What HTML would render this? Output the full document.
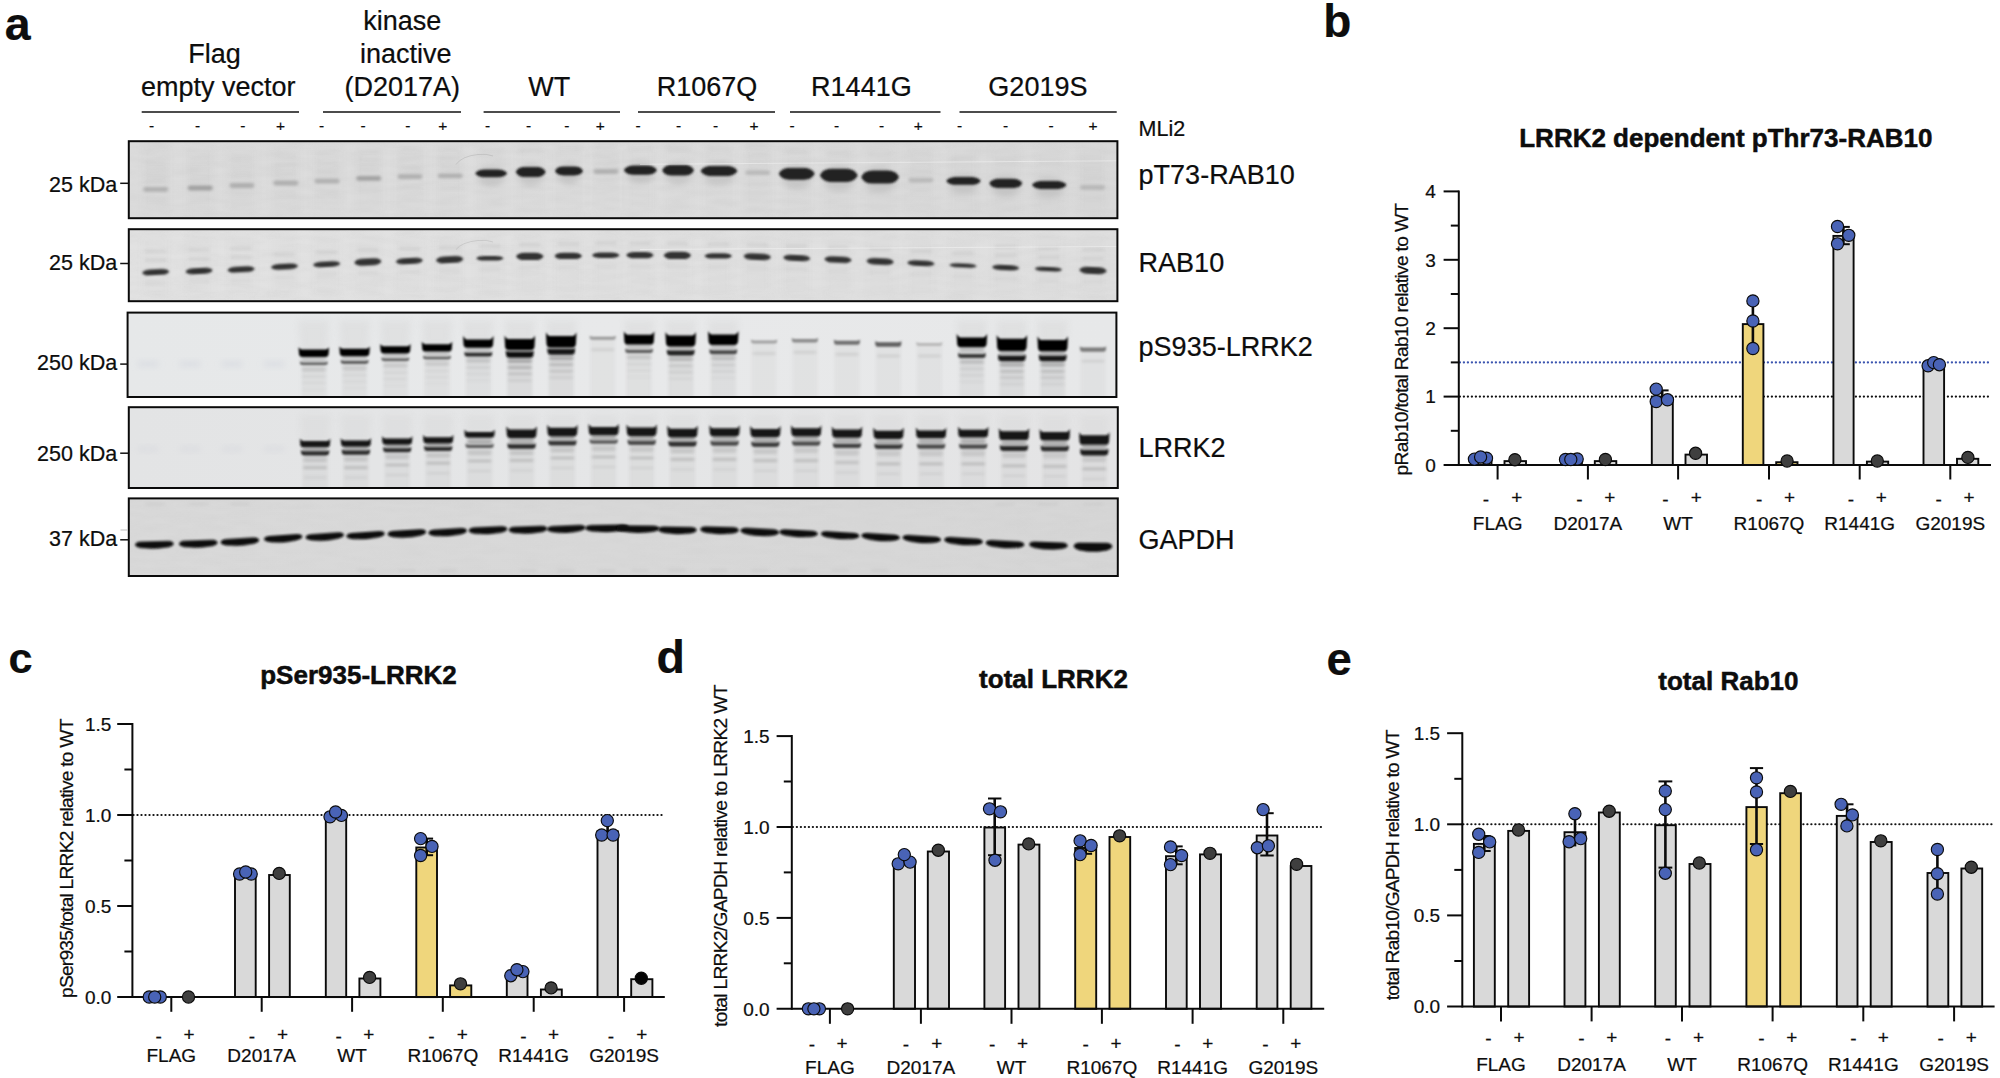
<!DOCTYPE html>
<html lang="en"><head><meta charset="utf-8"><title>LRRK2 variants figure</title>
<style>html,body{margin:0;padding:0;background:#fff;}svg{display:block;}text{font-family:"Liberation Sans", Arial, Helvetica, sans-serif;fill:#0d0d0d;stroke:#0d0d0d;stroke-width:0.22px;}</style></head><body>
<svg width="2000" height="1078" viewBox="0 0 2000 1078">
<defs>
<filter id="b1" x="-20%" y="-80%" width="140%" height="260%"><feGaussianBlur stdDeviation="1.15"/></filter>
<filter id="b0" x="-20%" y="-80%" width="140%" height="260%"><feGaussianBlur stdDeviation="0.85"/></filter>
<filter id="b2" x="-20%" y="-100%" width="140%" height="300%"><feGaussianBlur stdDeviation="1.7"/></filter>
<filter id="b3s" x="-30%" y="-150%" width="160%" height="400%"><feGaussianBlur stdDeviation="2.3"/></filter>
<filter id="b3" x="-30%" y="-60%" width="160%" height="220%"><feGaussianBlur stdDeviation="3.2"/></filter>
<filter id="noise" x="0" y="0" width="100%" height="100%"><feTurbulence type="fractalNoise" baseFrequency="0.035 0.22" numOctaves="2" seed="7" result="n"/><feColorMatrix in="n" type="matrix" values="0 0 0 0 0.45  0 0 0 0 0.45  0 0 0 0 0.45  0.55 0 0 0 -0.22"/><feGaussianBlur stdDeviation="1.2"/></filter>
<linearGradient id="bg1" x1="0" y1="0" x2="1" y2="0"><stop offset="0" stop-color="#dcdcdc"/><stop offset="0.5" stop-color="#dedede"/><stop offset="1" stop-color="#dadada"/></linearGradient>
<linearGradient id="bg2" x1="0" y1="0" x2="1" y2="0"><stop offset="0" stop-color="#e2e2e2"/><stop offset="0.5" stop-color="#e1e1e1"/><stop offset="1" stop-color="#dfdfdf"/></linearGradient>
<linearGradient id="bg3" x1="0" y1="0" x2="1" y2="0"><stop offset="0" stop-color="#e6e8e9"/><stop offset="0.5" stop-color="#e8e9ea"/><stop offset="1" stop-color="#e7e8e9"/></linearGradient>
<linearGradient id="bg4" x1="0" y1="0" x2="1" y2="0"><stop offset="0" stop-color="#e3e4e5"/><stop offset="0.5" stop-color="#e5e6e7"/><stop offset="1" stop-color="#e4e4e5"/></linearGradient>
<linearGradient id="bg5" x1="0" y1="0" x2="1" y2="0"><stop offset="0" stop-color="#d9d9d9"/><stop offset="0.5" stop-color="#d8d8d8"/><stop offset="1" stop-color="#d6d6d6"/></linearGradient>
</defs>
<rect width="2000" height="1078" fill="#ffffff"/>
<text x="4.8" y="39.5" font-size="46.5" text-anchor="start" font-weight="bold" >a</text>
<text x="1323.2" y="37.2" font-size="46" text-anchor="start" font-weight="bold" >b</text>
<text x="8.4" y="672.6" font-size="43.2" text-anchor="start" font-weight="bold" >c</text>
<text x="656.5" y="672.6" font-size="46.5" text-anchor="start" font-weight="bold" >d</text>
<text x="1326.6" y="675.4" font-size="45.5" text-anchor="start" font-weight="bold" >e</text>
<text x="214.5" y="63.3" font-size="27" text-anchor="middle" font-weight="normal" >Flag</text>
<text x="218.2" y="96.0" font-size="27" text-anchor="middle" font-weight="normal" >empty vector</text>
<text x="402.2" y="30.4" font-size="27" text-anchor="middle" font-weight="normal" >kinase</text>
<text x="405.7" y="63.3" font-size="27" text-anchor="middle" font-weight="normal" >inactive</text>
<text x="402.2" y="96.0" font-size="27" text-anchor="middle" font-weight="normal" >(D2017A)</text>
<text x="549.2" y="96.0" font-size="27" text-anchor="middle" font-weight="normal" >WT</text>
<text x="707.0" y="96.0" font-size="27" text-anchor="middle" font-weight="normal" >R1067Q</text>
<text x="861.4" y="96.0" font-size="27" text-anchor="middle" font-weight="normal" >R1441G</text>
<text x="1037.9" y="96.0" font-size="27" text-anchor="middle" font-weight="normal" >G2019S</text>
<line x1="141.7" y1="112" x2="299" y2="112" stroke="#111" stroke-width="1.7"/>
<line x1="323" y1="112" x2="461" y2="112" stroke="#111" stroke-width="1.7"/>
<line x1="483.6" y1="112" x2="620" y2="112" stroke="#111" stroke-width="1.7"/>
<line x1="638" y1="112" x2="775" y2="112" stroke="#111" stroke-width="1.7"/>
<line x1="790" y1="112" x2="940.5" y2="112" stroke="#111" stroke-width="1.7"/>
<line x1="959.5" y1="112" x2="1116.7" y2="112" stroke="#111" stroke-width="1.7"/>
<text x="151.5" y="131.4" font-size="15.5" text-anchor="middle" font-weight="normal" fill="#222">-</text>
<text x="197.7" y="131.4" font-size="15.5" text-anchor="middle" font-weight="normal" fill="#222">-</text>
<text x="242.9" y="131.4" font-size="15.5" text-anchor="middle" font-weight="normal" fill="#222">-</text>
<text x="280.6" y="131.4" font-size="15.5" text-anchor="middle" font-weight="normal" fill="#222">+</text>
<text x="321.5" y="131.4" font-size="15.5" text-anchor="middle" font-weight="normal" fill="#222">-</text>
<text x="363.0" y="131.4" font-size="15.5" text-anchor="middle" font-weight="normal" fill="#222">-</text>
<text x="407.8" y="131.4" font-size="15.5" text-anchor="middle" font-weight="normal" fill="#222">-</text>
<text x="442.7" y="131.4" font-size="15.5" text-anchor="middle" font-weight="normal" fill="#222">+</text>
<text x="487.5" y="131.4" font-size="15.5" text-anchor="middle" font-weight="normal" fill="#222">-</text>
<text x="528.7" y="131.4" font-size="15.5" text-anchor="middle" font-weight="normal" fill="#222">-</text>
<text x="566.8" y="131.4" font-size="15.5" text-anchor="middle" font-weight="normal" fill="#222">-</text>
<text x="600.3" y="131.4" font-size="15.5" text-anchor="middle" font-weight="normal" fill="#222">+</text>
<text x="638.0" y="131.4" font-size="15.5" text-anchor="middle" font-weight="normal" fill="#222">-</text>
<text x="678.6" y="131.4" font-size="15.5" text-anchor="middle" font-weight="normal" fill="#222">-</text>
<text x="715.6" y="131.4" font-size="15.5" text-anchor="middle" font-weight="normal" fill="#222">-</text>
<text x="754.0" y="131.4" font-size="15.5" text-anchor="middle" font-weight="normal" fill="#222">+</text>
<text x="792.0" y="131.4" font-size="15.5" text-anchor="middle" font-weight="normal" fill="#222">-</text>
<text x="836.5" y="131.4" font-size="15.5" text-anchor="middle" font-weight="normal" fill="#222">-</text>
<text x="881.6" y="131.4" font-size="15.5" text-anchor="middle" font-weight="normal" fill="#222">-</text>
<text x="918.3" y="131.4" font-size="15.5" text-anchor="middle" font-weight="normal" fill="#222">+</text>
<text x="959.5" y="131.4" font-size="15.5" text-anchor="middle" font-weight="normal" fill="#222">-</text>
<text x="1005.7" y="131.4" font-size="15.5" text-anchor="middle" font-weight="normal" fill="#222">-</text>
<text x="1051.0" y="131.4" font-size="15.5" text-anchor="middle" font-weight="normal" fill="#222">-</text>
<text x="1093.0" y="131.4" font-size="15.5" text-anchor="middle" font-weight="normal" fill="#222">+</text>
<text x="1138.6" y="135.5" font-size="21.5" text-anchor="start" font-weight="normal" >MLi2</text>
<clipPath id="cb1"><rect x="128.8" y="141.2" width="988.6" height="77.0"/></clipPath>
<clipPath id="cb2"><rect x="128.8" y="229.2" width="988.6" height="72.0"/></clipPath>
<clipPath id="cb3"><rect x="128.8" y="312.6" width="988.6" height="84.4"/></clipPath>
<clipPath id="cb4"><rect x="128.8" y="407.2" width="988.6" height="80.8"/></clipPath>
<clipPath id="cb5"><rect x="128.8" y="498.4" width="988.6" height="77.6"/></clipPath>
<g clip-path="url(#cb1)">
<rect x="128.8" y="141.2" width="988.6" height="77.0" fill="url(#bg1)"/>
<rect x="128.8" y="141.2" width="988.6" height="77.0" filter="url(#noise)" opacity="0.5"/>
<rect x="141.7" y="144.2" width="28" height="71.0" fill="#c2c2c2" opacity="0.10" filter="url(#b3)"/>
<rect x="143.2" y="186.9" width="25.0" height="4.8" rx="2.4" fill="#8a8a8a" opacity="0.5225" filter="url(#b2)"/>
<rect x="144.2" y="178.2" width="23.0" height="4.2" rx="2.1" fill="#a2a2a2" opacity="0.11" filter="url(#b3s)"/>
<rect x="144.2" y="169.2" width="23.0" height="4.2" rx="2.1" fill="#a2a2a2" opacity="0.1" filter="url(#b3s)"/>
<rect x="144.2" y="160.2" width="23.0" height="4.2" rx="2.1" fill="#a2a2a2" opacity="0.07" filter="url(#b3s)"/>
<rect x="144.2" y="198.2" width="23.0" height="4.2" rx="2.1" fill="#a2a2a2" opacity="0.07" filter="url(#b3s)"/>
<rect x="186.3" y="144.2" width="28" height="71.0" fill="#c2c2c2" opacity="0.10" filter="url(#b3)"/>
<rect x="187.8" y="185.6" width="25.0" height="4.8" rx="2.4" fill="#8a8a8a" opacity="0.7124999999999999" filter="url(#b2)"/>
<rect x="188.8" y="176.9" width="23.0" height="4.2" rx="2.1" fill="#a2a2a2" opacity="0.11" filter="url(#b3s)"/>
<rect x="188.8" y="167.9" width="23.0" height="4.2" rx="2.1" fill="#a2a2a2" opacity="0.1" filter="url(#b3s)"/>
<rect x="188.8" y="158.9" width="23.0" height="4.2" rx="2.1" fill="#a2a2a2" opacity="0.07" filter="url(#b3s)"/>
<rect x="188.8" y="196.9" width="23.0" height="4.2" rx="2.1" fill="#a2a2a2" opacity="0.07" filter="url(#b3s)"/>
<rect x="227.9" y="144.2" width="28" height="71.0" fill="#c2c2c2" opacity="0.10" filter="url(#b3)"/>
<rect x="229.4" y="183.1" width="25.0" height="4.8" rx="2.4" fill="#8a8a8a" opacity="0.5225" filter="url(#b2)"/>
<rect x="230.4" y="174.4" width="23.0" height="4.2" rx="2.1" fill="#a2a2a2" opacity="0.11" filter="url(#b3s)"/>
<rect x="230.4" y="165.4" width="23.0" height="4.2" rx="2.1" fill="#a2a2a2" opacity="0.1" filter="url(#b3s)"/>
<rect x="230.4" y="156.4" width="23.0" height="4.2" rx="2.1" fill="#a2a2a2" opacity="0.07" filter="url(#b3s)"/>
<rect x="230.4" y="194.4" width="23.0" height="4.2" rx="2.1" fill="#a2a2a2" opacity="0.07" filter="url(#b3s)"/>
<rect x="271.8" y="144.2" width="28" height="71.0" fill="#c2c2c2" opacity="0.10" filter="url(#b3)"/>
<rect x="273.3" y="180.6" width="25.0" height="4.8" rx="2.4" fill="#8a8a8a" opacity="0.5225" filter="url(#b2)"/>
<rect x="274.3" y="171.9" width="23.0" height="4.2" rx="2.1" fill="#a2a2a2" opacity="0.11" filter="url(#b3s)"/>
<rect x="274.3" y="162.9" width="23.0" height="4.2" rx="2.1" fill="#a2a2a2" opacity="0.1" filter="url(#b3s)"/>
<rect x="274.3" y="153.9" width="23.0" height="4.2" rx="2.1" fill="#a2a2a2" opacity="0.07" filter="url(#b3s)"/>
<rect x="274.3" y="191.9" width="23.0" height="4.2" rx="2.1" fill="#a2a2a2" opacity="0.07" filter="url(#b3s)"/>
<rect x="313.1" y="144.2" width="28" height="71.0" fill="#c2c2c2" opacity="0.10" filter="url(#b3)"/>
<rect x="314.6" y="178.8" width="25.0" height="4.8" rx="2.4" fill="#8a8a8a" opacity="0.5225" filter="url(#b2)"/>
<rect x="315.6" y="170.1" width="23.0" height="4.2" rx="2.1" fill="#a2a2a2" opacity="0.11" filter="url(#b3s)"/>
<rect x="315.6" y="161.1" width="23.0" height="4.2" rx="2.1" fill="#a2a2a2" opacity="0.1" filter="url(#b3s)"/>
<rect x="315.6" y="152.1" width="23.0" height="4.2" rx="2.1" fill="#a2a2a2" opacity="0.07" filter="url(#b3s)"/>
<rect x="315.6" y="190.1" width="23.0" height="4.2" rx="2.1" fill="#a2a2a2" opacity="0.07" filter="url(#b3s)"/>
<rect x="354.7" y="144.2" width="28" height="71.0" fill="#c2c2c2" opacity="0.10" filter="url(#b3)"/>
<rect x="356.2" y="176.0" width="25.0" height="4.8" rx="2.4" fill="#8a8a8a" opacity="0.7124999999999999" filter="url(#b2)"/>
<rect x="357.2" y="167.3" width="23.0" height="4.2" rx="2.1" fill="#a2a2a2" opacity="0.11" filter="url(#b3s)"/>
<rect x="357.2" y="158.3" width="23.0" height="4.2" rx="2.1" fill="#a2a2a2" opacity="0.1" filter="url(#b3s)"/>
<rect x="357.2" y="149.3" width="23.0" height="4.2" rx="2.1" fill="#a2a2a2" opacity="0.07" filter="url(#b3s)"/>
<rect x="357.2" y="187.3" width="23.0" height="4.2" rx="2.1" fill="#a2a2a2" opacity="0.07" filter="url(#b3s)"/>
<rect x="396.0" y="144.2" width="28" height="71.0" fill="#c2c2c2" opacity="0.10" filter="url(#b3)"/>
<rect x="397.5" y="174.2" width="25.0" height="4.8" rx="2.4" fill="#8a8a8a" opacity="0.5225" filter="url(#b2)"/>
<rect x="398.5" y="165.5" width="23.0" height="4.2" rx="2.1" fill="#a2a2a2" opacity="0.11" filter="url(#b3s)"/>
<rect x="398.5" y="156.5" width="23.0" height="4.2" rx="2.1" fill="#a2a2a2" opacity="0.1" filter="url(#b3s)"/>
<rect x="398.5" y="147.5" width="23.0" height="4.2" rx="2.1" fill="#a2a2a2" opacity="0.07" filter="url(#b3s)"/>
<rect x="398.5" y="185.5" width="23.0" height="4.2" rx="2.1" fill="#a2a2a2" opacity="0.07" filter="url(#b3s)"/>
<rect x="436.3" y="144.2" width="28" height="71.0" fill="#c2c2c2" opacity="0.10" filter="url(#b3)"/>
<rect x="437.8" y="173.4" width="25.0" height="4.8" rx="2.4" fill="#8a8a8a" opacity="0.5225" filter="url(#b2)"/>
<rect x="438.8" y="164.7" width="23.0" height="4.2" rx="2.1" fill="#a2a2a2" opacity="0.11" filter="url(#b3s)"/>
<rect x="438.8" y="155.7" width="23.0" height="4.2" rx="2.1" fill="#a2a2a2" opacity="0.1" filter="url(#b3s)"/>
<rect x="438.8" y="146.7" width="23.0" height="4.2" rx="2.1" fill="#a2a2a2" opacity="0.07" filter="url(#b3s)"/>
<rect x="438.8" y="184.7" width="23.0" height="4.2" rx="2.1" fill="#a2a2a2" opacity="0.07" filter="url(#b3s)"/>
<rect x="477.2" y="144.2" width="28" height="71.0" fill="#c2c2c2" opacity="0.10" filter="url(#b3)"/>
<rect x="478.4" y="166.4" width="25.6" height="19.8" rx="9.9" fill="#a0a0a0" opacity="0.32" filter="url(#b3)"/>
<rect x="479.2" y="149.3" width="24.0" height="4.0" rx="2.0" fill="#a0a0a0" opacity="0.1" filter="url(#b3s)"/>
<path d="M475.2,173.3 Q477.8,169.4 484.8,169.4 L497.6,169.4 Q504.6,169.4 507.2,173.3 Q504.6,177.2 497.6,177.2 L484.8,177.2 Q477.8,177.2 475.2,173.3 Z" fill="#202020" opacity="1.0" filter="url(#b1)"/>
<rect x="516.7" y="144.2" width="28" height="71.0" fill="#c2c2c2" opacity="0.10" filter="url(#b3)"/>
<rect x="518.7" y="163.9" width="24.0" height="22.2" rx="11.1" fill="#a0a0a0" opacity="0.32" filter="url(#b3)"/>
<rect x="518.7" y="148.0" width="24.0" height="4.0" rx="2.0" fill="#a0a0a0" opacity="0.1" filter="url(#b3s)"/>
<path d="M515.7,172.0 Q518.1,166.9 524.7,166.9 L536.7,166.9 Q543.3,166.9 545.7,172.0 Q543.3,177.1 536.7,177.1 L524.7,177.1 Q518.1,177.1 515.7,172.0 Z" fill="#202020" opacity="1.0" filter="url(#b1)"/>
<rect x="555.0" y="144.2" width="28" height="71.0" fill="#c2c2c2" opacity="0.10" filter="url(#b3)"/>
<rect x="557.8" y="163.6" width="22.4" height="20.8" rx="10.4" fill="#a0a0a0" opacity="0.32" filter="url(#b3)"/>
<rect x="557.0" y="147.0" width="24.0" height="4.0" rx="2.0" fill="#a0a0a0" opacity="0.1" filter="url(#b3s)"/>
<path d="M555.0,171.0 Q557.2,166.6 563.4,166.6 L574.6,166.6 Q580.8,166.6 583.0,171.0 Q580.8,175.4 574.6,175.4 L563.4,175.4 Q557.2,175.4 555.0,171.0 Z" fill="#202020" opacity="1.0" filter="url(#b1)"/>
<rect x="592.0" y="144.2" width="28" height="71.0" fill="#c2c2c2" opacity="0.10" filter="url(#b3)"/>
<rect x="593.5" y="169.1" width="25.0" height="4.8" rx="2.4" fill="#8a8a8a" opacity="0.5225" filter="url(#b2)"/>
<rect x="594.5" y="160.4" width="23.0" height="4.2" rx="2.1" fill="#a2a2a2" opacity="0.11" filter="url(#b3s)"/>
<rect x="594.5" y="151.4" width="23.0" height="4.2" rx="2.1" fill="#a2a2a2" opacity="0.1" filter="url(#b3s)"/>
<rect x="594.5" y="142.4" width="23.0" height="4.2" rx="2.1" fill="#a2a2a2" opacity="0.07" filter="url(#b3s)"/>
<rect x="594.5" y="180.4" width="23.0" height="4.2" rx="2.1" fill="#a2a2a2" opacity="0.07" filter="url(#b3s)"/>
<rect x="626.4" y="144.2" width="28" height="71.0" fill="#c2c2c2" opacity="0.10" filter="url(#b3)"/>
<rect x="627.2" y="162.6" width="26.4" height="21.2" rx="10.6" fill="#a0a0a0" opacity="0.32" filter="url(#b3)"/>
<rect x="628.4" y="146.2" width="24.0" height="4.0" rx="2.0" fill="#a0a0a0" opacity="0.1" filter="url(#b3s)"/>
<path d="M623.9,170.2 Q626.5,165.6 633.8,165.6 L647.0,165.6 Q654.3,165.6 656.9,170.2 Q654.3,174.8 647.0,174.8 L633.8,174.8 Q626.5,174.8 623.9,170.2 Z" fill="#202020" opacity="1.0" filter="url(#b1)"/>
<rect x="664.1" y="144.2" width="28" height="71.0" fill="#c2c2c2" opacity="0.10" filter="url(#b3)"/>
<rect x="665.3" y="161.9" width="25.6" height="22.6" rx="11.3" fill="#a0a0a0" opacity="0.32" filter="url(#b3)"/>
<rect x="666.1" y="146.2" width="24.0" height="4.0" rx="2.0" fill="#a0a0a0" opacity="0.1" filter="url(#b3s)"/>
<path d="M662.1,170.2 Q664.7,164.9 671.7,164.9 L684.5,164.9 Q691.5,164.9 694.1,170.2 Q691.5,175.5 684.5,175.5 L671.7,175.5 Q664.7,175.5 662.1,170.2 Z" fill="#202020" opacity="1.0" filter="url(#b1)"/>
<rect x="705.0" y="144.2" width="28" height="71.0" fill="#c2c2c2" opacity="0.10" filter="url(#b3)"/>
<rect x="704.2" y="163.0" width="29.6" height="22.0" rx="11.0" fill="#a0a0a0" opacity="0.32" filter="url(#b3)"/>
<rect x="707.0" y="147.0" width="24.0" height="4.0" rx="2.0" fill="#a0a0a0" opacity="0.1" filter="url(#b3s)"/>
<path d="M700.5,171.0 Q703.5,166.0 711.6,166.0 L726.4,166.0 Q734.5,166.0 737.5,171.0 Q734.5,176.0 726.4,176.0 L711.6,176.0 Q703.5,176.0 700.5,171.0 Z" fill="#202020" opacity="1.0" filter="url(#b1)"/>
<rect x="743.7" y="144.2" width="28" height="71.0" fill="#c2c2c2" opacity="0.10" filter="url(#b3)"/>
<rect x="745.2" y="170.3" width="25.0" height="4.8" rx="2.4" fill="#8a8a8a" opacity="0.39899999999999997" filter="url(#b2)"/>
<rect x="746.2" y="161.6" width="23.0" height="4.2" rx="2.1" fill="#a2a2a2" opacity="0.11" filter="url(#b3s)"/>
<rect x="746.2" y="152.6" width="23.0" height="4.2" rx="2.1" fill="#a2a2a2" opacity="0.1" filter="url(#b3s)"/>
<rect x="746.2" y="143.6" width="23.0" height="4.2" rx="2.1" fill="#a2a2a2" opacity="0.07" filter="url(#b3s)"/>
<rect x="746.2" y="181.6" width="23.0" height="4.2" rx="2.1" fill="#a2a2a2" opacity="0.07" filter="url(#b3s)"/>
<rect x="782.7" y="144.2" width="28" height="71.0" fill="#c2c2c2" opacity="0.10" filter="url(#b3)"/>
<rect x="782.3" y="164.9" width="28.8" height="23.8" rx="11.9" fill="#a0a0a0" opacity="0.32" filter="url(#b3)"/>
<rect x="784.7" y="149.8" width="24.0" height="4.0" rx="2.0" fill="#a0a0a0" opacity="0.1" filter="url(#b3s)"/>
<path d="M778.7,173.8 Q781.6,167.9 789.5,167.9 L803.9,167.9 Q811.8,167.9 814.7,173.8 Q811.8,179.7 803.9,179.7 L789.5,179.7 Q781.6,179.7 778.7,173.8 Z" fill="#202020" opacity="1.0" filter="url(#b1)"/>
<rect x="824.8" y="144.2" width="28" height="71.0" fill="#c2c2c2" opacity="0.10" filter="url(#b3)"/>
<rect x="823.6" y="165.7" width="30.4" height="25.2" rx="12.6" fill="#a0a0a0" opacity="0.32" filter="url(#b3)"/>
<rect x="826.8" y="151.3" width="24.0" height="4.0" rx="2.0" fill="#a0a0a0" opacity="0.1" filter="url(#b3s)"/>
<path d="M819.8,175.3 Q822.8,168.7 831.2,168.7 L846.4,168.7 Q854.8,168.7 857.8,175.3 Q854.8,181.9 846.4,181.9 L831.2,181.9 Q822.8,181.9 819.8,175.3 Z" fill="#202020" opacity="1.0" filter="url(#b1)"/>
<rect x="866.1" y="144.2" width="28" height="71.0" fill="#c2c2c2" opacity="0.10" filter="url(#b3)"/>
<rect x="864.9" y="167.4" width="30.4" height="25.2" rx="12.6" fill="#a0a0a0" opacity="0.32" filter="url(#b3)"/>
<rect x="868.1" y="153.0" width="24.0" height="4.0" rx="2.0" fill="#a0a0a0" opacity="0.1" filter="url(#b3s)"/>
<path d="M861.1,177.0 Q864.1,170.4 872.5,170.4 L887.7,170.4 Q896.1,170.4 899.1,177.0 Q896.1,183.6 887.7,183.6 L872.5,183.6 Q864.1,183.6 861.1,177.0 Z" fill="#202020" opacity="1.0" filter="url(#b1)"/>
<rect x="906.9" y="144.2" width="28" height="71.0" fill="#c2c2c2" opacity="0.10" filter="url(#b3)"/>
<rect x="908.4" y="177.7" width="25.0" height="4.8" rx="2.4" fill="#8a8a8a" opacity="0.39899999999999997" filter="url(#b2)"/>
<rect x="909.4" y="169.0" width="23.0" height="4.2" rx="2.1" fill="#a2a2a2" opacity="0.11" filter="url(#b3s)"/>
<rect x="909.4" y="160.0" width="23.0" height="4.2" rx="2.1" fill="#a2a2a2" opacity="0.1" filter="url(#b3s)"/>
<rect x="909.4" y="151.0" width="23.0" height="4.2" rx="2.1" fill="#a2a2a2" opacity="0.07" filter="url(#b3s)"/>
<rect x="909.4" y="189.0" width="23.0" height="4.2" rx="2.1" fill="#a2a2a2" opacity="0.07" filter="url(#b3s)"/>
<rect x="949.5" y="144.2" width="28" height="71.0" fill="#c2c2c2" opacity="0.10" filter="url(#b3)"/>
<rect x="949.7" y="174.0" width="27.6" height="19.8" rx="9.9" fill="#a0a0a0" opacity="0.32" filter="url(#b3)"/>
<rect x="951.5" y="156.9" width="24.0" height="4.0" rx="2.0" fill="#a0a0a0" opacity="0.1" filter="url(#b3s)"/>
<path d="M946.2,180.9 Q949.0,177.0 956.6,177.0 L970.4,177.0 Q978.0,177.0 980.8,180.9 Q978.0,184.8 970.4,184.8 L956.6,184.8 Q949.0,184.8 946.2,180.9 Z" fill="#202020" opacity="1.0" filter="url(#b1)"/>
<rect x="991.8" y="144.2" width="28" height="71.0" fill="#c2c2c2" opacity="0.10" filter="url(#b3)"/>
<rect x="992.6" y="175.8" width="26.4" height="21.2" rx="10.6" fill="#a0a0a0" opacity="0.32" filter="url(#b3)"/>
<rect x="993.8" y="159.4" width="24.0" height="4.0" rx="2.0" fill="#a0a0a0" opacity="0.1" filter="url(#b3s)"/>
<path d="M989.3,183.4 Q991.9,178.8 999.2,178.8 L1012.4,178.8 Q1019.7,178.8 1022.3,183.4 Q1019.7,188.0 1012.4,188.0 L999.2,188.0 Q991.9,188.0 989.3,183.4 Z" fill="#202020" opacity="1.0" filter="url(#b1)"/>
<rect x="1035.2" y="144.2" width="28" height="71.0" fill="#c2c2c2" opacity="0.10" filter="url(#b3)"/>
<rect x="1035.4" y="177.9" width="27.6" height="20.2" rx="10.1" fill="#a0a0a0" opacity="0.32" filter="url(#b3)"/>
<rect x="1037.2" y="161.0" width="24.0" height="4.0" rx="2.0" fill="#a0a0a0" opacity="0.1" filter="url(#b3s)"/>
<path d="M1032.0,185.0 Q1034.7,180.9 1042.3,180.9 L1056.1,180.9 Q1063.7,180.9 1066.5,185.0 Q1063.7,189.1 1056.1,189.1 L1042.3,189.1 Q1034.7,189.1 1032.0,185.0 Z" fill="#202020" opacity="1.0" filter="url(#b1)"/>
<rect x="1078.5" y="144.2" width="28" height="71.0" fill="#c2c2c2" opacity="0.10" filter="url(#b3)"/>
<rect x="1080.0" y="184.9" width="25.0" height="4.8" rx="2.4" fill="#8a8a8a" opacity="0.39899999999999997" filter="url(#b2)"/>
<rect x="1081.0" y="176.2" width="23.0" height="4.2" rx="2.1" fill="#a2a2a2" opacity="0.11" filter="url(#b3s)"/>
<rect x="1081.0" y="167.2" width="23.0" height="4.2" rx="2.1" fill="#a2a2a2" opacity="0.1" filter="url(#b3s)"/>
<rect x="1081.0" y="158.2" width="23.0" height="4.2" rx="2.1" fill="#a2a2a2" opacity="0.07" filter="url(#b3s)"/>
<rect x="1081.0" y="196.2" width="23.0" height="4.2" rx="2.1" fill="#a2a2a2" opacity="0.07" filter="url(#b3s)"/>
<line x1="640" y1="164.3" x2="1117" y2="160.8" stroke="#f3f3f3" stroke-width="1" opacity="0.55"/>
<path d="M456,164.5 Q462,156 478,154.5 Q487,153.5 493,156" fill="none" stroke="#9a9a9a" stroke-width="0.6" opacity="0.55"/>
</g>
<rect x="128.8" y="141.2" width="988.6" height="77.0" fill="none" stroke="#0a0a0a" stroke-width="2"/>
<g clip-path="url(#cb2)">
<rect x="128.8" y="229.2" width="988.6" height="72.0" fill="url(#bg2)"/>
<rect x="128.8" y="229.2" width="988.6" height="72.0" filter="url(#noise)" opacity="0.35"/>
<rect x="142.7" y="233.2" width="26" height="64.0" fill="#c6c6c6" opacity="0.09" filter="url(#b3)"/>
<rect x="144.7" y="258.7" width="22.0" height="3.0" rx="1.5" fill="#a4a4a4" opacity="0.2" filter="url(#b2)"/>
<rect x="144.7" y="249.7" width="22.0" height="3.0" rx="1.5" fill="#a4a4a4" opacity="0.18" filter="url(#b2)"/>
<rect x="144.7" y="281.2" width="22.0" height="4.0" rx="2.0" fill="#b0b0b0" opacity="0.1" filter="url(#b2)"/>
<path d="M141.9,272.2 Q144.1,269.3 150.2,269.3 L161.2,269.3 Q167.2,269.3 169.4,272.2 Q167.2,275.1 161.2,275.1 L150.2,275.1 Q144.1,275.1 141.9,272.2 Z" fill="#303030" opacity="1.0" filter="url(#b1)" transform="rotate(-3 155.7 272.2)"/>
<rect x="186.1" y="233.2" width="26" height="64.0" fill="#c6c6c6" opacity="0.09" filter="url(#b3)"/>
<rect x="188.1" y="257.5" width="22.0" height="3.0" rx="1.5" fill="#a4a4a4" opacity="0.2" filter="url(#b2)"/>
<rect x="188.1" y="248.5" width="22.0" height="3.0" rx="1.5" fill="#a4a4a4" opacity="0.18" filter="url(#b2)"/>
<rect x="188.1" y="280.0" width="22.0" height="4.0" rx="2.0" fill="#b0b0b0" opacity="0.1" filter="url(#b2)"/>
<path d="M185.3,271.0 Q187.5,268.0 193.6,268.0 L204.6,268.0 Q210.7,268.0 212.8,271.0 Q210.7,274.0 204.6,274.0 L193.6,274.0 Q187.5,274.0 185.3,271.0 Z" fill="#303030" opacity="1.0" filter="url(#b1)" transform="rotate(-3 199.1 271.0)"/>
<rect x="228.1" y="233.2" width="26" height="64.0" fill="#c6c6c6" opacity="0.09" filter="url(#b3)"/>
<rect x="230.1" y="255.9" width="22.0" height="3.0" rx="1.5" fill="#a4a4a4" opacity="0.2" filter="url(#b2)"/>
<rect x="230.1" y="246.9" width="22.0" height="3.0" rx="1.5" fill="#a4a4a4" opacity="0.18" filter="url(#b2)"/>
<rect x="230.1" y="278.4" width="22.0" height="4.0" rx="2.0" fill="#b0b0b0" opacity="0.1" filter="url(#b2)"/>
<path d="M227.3,269.4 Q229.5,266.5 235.6,266.5 L246.6,266.5 Q252.7,266.5 254.8,269.4 Q252.7,272.3 246.6,272.3 L235.6,272.3 Q229.5,272.3 227.3,269.4 Z" fill="#303030" opacity="1.0" filter="url(#b1)" transform="rotate(-3 241.1 269.4)"/>
<rect x="271.5" y="233.2" width="26" height="64.0" fill="#c6c6c6" opacity="0.09" filter="url(#b3)"/>
<rect x="273.5" y="253.1" width="22.0" height="3.0" rx="1.5" fill="#a4a4a4" opacity="0.2" filter="url(#b2)"/>
<rect x="273.5" y="275.6" width="22.0" height="4.0" rx="2.0" fill="#b0b0b0" opacity="0.1" filter="url(#b2)"/>
<path d="M270.8,266.6 Q272.9,263.7 279.0,263.7 L290.0,263.7 Q296.1,263.7 298.2,266.6 Q296.1,269.5 290.0,269.5 L279.0,269.5 Q272.9,269.5 270.8,266.6 Z" fill="#303030" opacity="1.0" filter="url(#b1)" transform="rotate(-3 284.5 266.6)"/>
<rect x="313.6" y="233.2" width="26" height="64.0" fill="#c6c6c6" opacity="0.09" filter="url(#b3)"/>
<rect x="315.6" y="250.8" width="22.0" height="3.0" rx="1.5" fill="#a4a4a4" opacity="0.2" filter="url(#b2)"/>
<rect x="315.6" y="273.3" width="22.0" height="4.0" rx="2.0" fill="#b0b0b0" opacity="0.1" filter="url(#b2)"/>
<path d="M312.9,264.3 Q315.1,261.6 321.1,261.6 L332.1,261.6 Q338.2,261.6 340.4,264.3 Q338.2,267.0 332.1,267.0 L321.1,267.0 Q315.1,267.0 312.9,264.3 Z" fill="#303030" opacity="1.0" filter="url(#b1)" transform="rotate(-3 326.6 264.3)"/>
<rect x="354.9" y="233.2" width="26" height="64.0" fill="#c6c6c6" opacity="0.09" filter="url(#b3)"/>
<rect x="356.9" y="248.5" width="22.0" height="3.0" rx="1.5" fill="#a4a4a4" opacity="0.2" filter="url(#b2)"/>
<rect x="356.9" y="271.0" width="22.0" height="4.0" rx="2.0" fill="#b0b0b0" opacity="0.1" filter="url(#b2)"/>
<path d="M354.1,262.0 Q356.3,258.6 362.4,258.6 L373.4,258.6 Q379.4,258.6 381.6,262.0 Q379.4,265.4 373.4,265.4 L362.4,265.4 Q356.3,265.4 354.1,262.0 Z" fill="#303030" opacity="1.0" filter="url(#b1)" transform="rotate(-3 367.9 262.0)"/>
<rect x="396.4" y="233.2" width="26" height="64.0" fill="#c6c6c6" opacity="0.09" filter="url(#b3)"/>
<rect x="398.4" y="247.5" width="22.0" height="3.0" rx="1.5" fill="#a4a4a4" opacity="0.2" filter="url(#b2)"/>
<rect x="398.4" y="270.0" width="22.0" height="4.0" rx="2.0" fill="#b0b0b0" opacity="0.1" filter="url(#b2)"/>
<path d="M395.6,261.0 Q397.8,258.1 403.9,258.1 L414.9,258.1 Q420.9,258.1 423.1,261.0 Q420.9,263.9 414.9,263.9 L403.9,263.9 Q397.8,263.9 395.6,261.0 Z" fill="#303030" opacity="1.0" filter="url(#b1)" transform="rotate(-3 409.4 261.0)"/>
<rect x="436.7" y="233.2" width="26" height="64.0" fill="#c6c6c6" opacity="0.09" filter="url(#b3)"/>
<rect x="438.7" y="246.2" width="22.0" height="3.0" rx="1.5" fill="#a4a4a4" opacity="0.2" filter="url(#b2)"/>
<rect x="438.7" y="268.7" width="22.0" height="4.0" rx="2.0" fill="#b0b0b0" opacity="0.1" filter="url(#b2)"/>
<path d="M435.9,259.7 Q438.1,256.3 444.2,256.3 L455.2,256.3 Q461.2,256.3 463.4,259.7 Q461.2,263.1 455.2,263.1 L444.2,263.1 Q438.1,263.1 435.9,259.7 Z" fill="#303030" opacity="1.0" filter="url(#b1)" transform="rotate(-3 449.7 259.7)"/>
<rect x="476.8" y="233.2" width="26" height="64.0" fill="#c6c6c6" opacity="0.09" filter="url(#b3)"/>
<rect x="478.8" y="244.7" width="22.0" height="3.0" rx="1.5" fill="#a4a4a4" opacity="0.2" filter="url(#b2)"/>
<rect x="478.8" y="267.2" width="22.0" height="4.0" rx="2.0" fill="#b0b0b0" opacity="0.1" filter="url(#b2)"/>
<path d="M476.1,258.2 Q478.2,255.9 484.3,255.9 L495.3,255.9 Q501.4,255.9 503.6,258.2 Q501.4,260.5 495.3,260.5 L484.3,260.5 Q478.2,260.5 476.1,258.2 Z" fill="#303030" opacity="1.0" filter="url(#b1)"/>
<rect x="516.8" y="233.2" width="26" height="64.0" fill="#c6c6c6" opacity="0.09" filter="url(#b3)"/>
<rect x="518.8" y="242.9" width="22.0" height="3.0" rx="1.5" fill="#a4a4a4" opacity="0.2" filter="url(#b2)"/>
<rect x="518.8" y="265.4" width="22.0" height="4.0" rx="2.0" fill="#b0b0b0" opacity="0.1" filter="url(#b2)"/>
<path d="M516.0,256.4 Q518.2,252.8 524.3,252.8 L535.3,252.8 Q541.3,252.8 543.5,256.4 Q541.3,260.0 535.3,260.0 L524.3,260.0 Q518.2,260.0 516.0,256.4 Z" fill="#303030" opacity="1.0" filter="url(#b1)"/>
<rect x="555.3" y="233.2" width="26" height="64.0" fill="#c6c6c6" opacity="0.09" filter="url(#b3)"/>
<rect x="557.3" y="242.4" width="22.0" height="3.0" rx="1.5" fill="#a4a4a4" opacity="0.2" filter="url(#b2)"/>
<rect x="557.3" y="264.9" width="22.0" height="4.0" rx="2.0" fill="#b0b0b0" opacity="0.1" filter="url(#b2)"/>
<path d="M554.5,255.9 Q556.8,252.7 562.8,252.7 L573.8,252.7 Q579.8,252.7 582.0,255.9 Q579.8,259.1 573.8,259.1 L562.8,259.1 Q556.8,259.1 554.5,255.9 Z" fill="#303030" opacity="1.0" filter="url(#b1)"/>
<rect x="592.8" y="233.2" width="26" height="64.0" fill="#c6c6c6" opacity="0.09" filter="url(#b3)"/>
<rect x="594.8" y="241.7" width="22.0" height="3.0" rx="1.5" fill="#a4a4a4" opacity="0.2" filter="url(#b2)"/>
<rect x="594.8" y="264.2" width="22.0" height="4.0" rx="2.0" fill="#b0b0b0" opacity="0.1" filter="url(#b2)"/>
<path d="M592.0,255.2 Q594.2,252.5 600.3,252.5 L611.3,252.5 Q617.3,252.5 619.5,255.2 Q617.3,257.9 611.3,257.9 L600.3,257.9 Q594.2,257.9 592.0,255.2 Z" fill="#303030" opacity="1.0" filter="url(#b1)"/>
<rect x="626.9" y="233.2" width="26" height="64.0" fill="#c6c6c6" opacity="0.09" filter="url(#b3)"/>
<rect x="628.9" y="241.7" width="22.0" height="3.0" rx="1.5" fill="#a4a4a4" opacity="0.2" filter="url(#b2)"/>
<rect x="628.9" y="264.2" width="22.0" height="4.0" rx="2.0" fill="#b0b0b0" opacity="0.1" filter="url(#b2)"/>
<path d="M626.1,255.2 Q628.4,252.1 634.4,252.1 L645.4,252.1 Q651.4,252.1 653.6,255.2 Q651.4,258.3 645.4,258.3 L634.4,258.3 Q628.4,258.3 626.1,255.2 Z" fill="#303030" opacity="1.0" filter="url(#b1)"/>
<rect x="664.4" y="233.2" width="26" height="64.0" fill="#c6c6c6" opacity="0.09" filter="url(#b3)"/>
<rect x="666.4" y="241.9" width="22.0" height="3.0" rx="1.5" fill="#a4a4a4" opacity="0.2" filter="url(#b2)"/>
<rect x="666.4" y="264.4" width="22.0" height="4.0" rx="2.0" fill="#b0b0b0" opacity="0.1" filter="url(#b2)"/>
<path d="M663.6,255.4 Q665.9,251.8 671.9,251.8 L682.9,251.8 Q688.9,251.8 691.1,255.4 Q688.9,259.0 682.9,259.0 L671.9,259.0 Q665.9,259.0 663.6,255.4 Z" fill="#303030" opacity="1.0" filter="url(#b1)"/>
<rect x="705.2" y="233.2" width="26" height="64.0" fill="#c6c6c6" opacity="0.09" filter="url(#b3)"/>
<rect x="707.2" y="242.4" width="22.0" height="3.0" rx="1.5" fill="#a4a4a4" opacity="0.2" filter="url(#b2)"/>
<rect x="707.2" y="264.9" width="22.0" height="4.0" rx="2.0" fill="#b0b0b0" opacity="0.1" filter="url(#b2)"/>
<path d="M704.5,255.9 Q706.7,253.3 712.7,253.3 L723.7,253.3 Q729.8,253.3 732.0,255.9 Q729.8,258.5 723.7,258.5 L712.7,258.5 Q706.7,258.5 704.5,255.9 Z" fill="#303030" opacity="1.0" filter="url(#b1)"/>
<rect x="744.2" y="233.2" width="26" height="64.0" fill="#c6c6c6" opacity="0.09" filter="url(#b3)"/>
<rect x="746.2" y="243.2" width="22.0" height="3.0" rx="1.5" fill="#a4a4a4" opacity="0.2" filter="url(#b2)"/>
<rect x="746.2" y="265.7" width="22.0" height="4.0" rx="2.0" fill="#b0b0b0" opacity="0.1" filter="url(#b2)"/>
<path d="M743.5,256.7 Q745.7,253.4 751.7,253.4 L762.7,253.4 Q768.8,253.4 771.0,256.7 Q768.8,260.0 762.7,260.0 L751.7,260.0 Q745.7,260.0 743.5,256.7 Z" fill="#303030" opacity="1.0" filter="url(#b1)" transform="rotate(2.5 757.2 256.7)"/>
<rect x="783.7" y="233.2" width="26" height="64.0" fill="#c6c6c6" opacity="0.09" filter="url(#b3)"/>
<rect x="785.7" y="244.5" width="22.0" height="3.0" rx="1.5" fill="#a4a4a4" opacity="0.2" filter="url(#b2)"/>
<rect x="785.7" y="267.0" width="22.0" height="4.0" rx="2.0" fill="#b0b0b0" opacity="0.1" filter="url(#b2)"/>
<path d="M783.0,258.0 Q785.2,255.0 791.2,255.0 L802.2,255.0 Q808.2,255.0 810.5,258.0 Q808.2,261.0 802.2,261.0 L791.2,261.0 Q785.2,261.0 783.0,258.0 Z" fill="#303030" opacity="1.0" filter="url(#b1)" transform="rotate(2.5 796.7 258.0)"/>
<rect x="825.0" y="233.2" width="26" height="64.0" fill="#c6c6c6" opacity="0.09" filter="url(#b3)"/>
<rect x="827.0" y="246.2" width="22.0" height="3.0" rx="1.5" fill="#a4a4a4" opacity="0.2" filter="url(#b2)"/>
<rect x="827.0" y="268.7" width="22.0" height="4.0" rx="2.0" fill="#b0b0b0" opacity="0.1" filter="url(#b2)"/>
<path d="M824.2,259.7 Q826.5,256.6 832.5,256.6 L843.5,256.6 Q849.5,256.6 851.8,259.7 Q849.5,262.8 843.5,262.8 L832.5,262.8 Q826.5,262.8 824.2,259.7 Z" fill="#303030" opacity="1.0" filter="url(#b1)" transform="rotate(2.5 838.0 259.7)"/>
<rect x="867.1" y="233.2" width="26" height="64.0" fill="#c6c6c6" opacity="0.09" filter="url(#b3)"/>
<rect x="869.1" y="248.0" width="22.0" height="3.0" rx="1.5" fill="#a4a4a4" opacity="0.2" filter="url(#b2)"/>
<rect x="869.1" y="270.5" width="22.0" height="4.0" rx="2.0" fill="#b0b0b0" opacity="0.1" filter="url(#b2)"/>
<path d="M866.4,261.5 Q868.6,258.3 874.6,258.3 L885.6,258.3 Q891.6,258.3 893.9,261.5 Q891.6,264.7 885.6,264.7 L874.6,264.7 Q868.6,264.7 866.4,261.5 Z" fill="#303030" opacity="1.0" filter="url(#b1)" transform="rotate(2.5 880.1 261.5)"/>
<rect x="907.9" y="233.2" width="26" height="64.0" fill="#c6c6c6" opacity="0.09" filter="url(#b3)"/>
<rect x="909.9" y="249.8" width="22.0" height="3.0" rx="1.5" fill="#a4a4a4" opacity="0.2" filter="url(#b2)"/>
<rect x="909.9" y="272.3" width="22.0" height="4.0" rx="2.0" fill="#b0b0b0" opacity="0.1" filter="url(#b2)"/>
<path d="M907.1,263.3 Q909.4,260.6 915.4,260.6 L926.4,260.6 Q932.4,260.6 934.6,263.3 Q932.4,266.0 926.4,266.0 L915.4,266.0 Q909.4,266.0 907.1,263.3 Z" fill="#303030" opacity="1.0" filter="url(#b1)" transform="rotate(2.5 920.9 263.3)"/>
<rect x="950.0" y="233.2" width="26" height="64.0" fill="#c6c6c6" opacity="0.09" filter="url(#b3)"/>
<rect x="952.0" y="251.9" width="22.0" height="3.0" rx="1.5" fill="#a4a4a4" opacity="0.2" filter="url(#b2)"/>
<rect x="952.0" y="274.4" width="22.0" height="4.0" rx="2.0" fill="#b0b0b0" opacity="0.1" filter="url(#b2)"/>
<path d="M949.2,265.4 Q951.5,263.4 957.5,263.4 L968.5,263.4 Q974.5,263.4 976.8,265.4 Q974.5,267.4 968.5,267.4 L957.5,267.4 Q951.5,267.4 949.2,265.4 Z" fill="#303030" opacity="1.0" filter="url(#b1)" transform="rotate(2.5 963.0 265.4)"/>
<rect x="992.6" y="233.2" width="26" height="64.0" fill="#c6c6c6" opacity="0.09" filter="url(#b3)"/>
<rect x="994.6" y="254.1" width="22.0" height="3.0" rx="1.5" fill="#a4a4a4" opacity="0.2" filter="url(#b2)"/>
<rect x="994.6" y="245.1" width="22.0" height="3.0" rx="1.5" fill="#a4a4a4" opacity="0.18" filter="url(#b2)"/>
<rect x="994.6" y="276.6" width="22.0" height="4.0" rx="2.0" fill="#b0b0b0" opacity="0.1" filter="url(#b2)"/>
<path d="M991.9,267.6 Q994.1,265.0 1000.1,265.0 L1011.1,265.0 Q1017.1,265.0 1019.4,267.6 Q1017.1,270.2 1011.1,270.2 L1000.1,270.2 Q994.1,270.2 991.9,267.6 Z" fill="#303030" opacity="1.0" filter="url(#b1)" transform="rotate(2.5 1005.6 267.6)"/>
<rect x="1035.4" y="233.2" width="26" height="64.0" fill="#c6c6c6" opacity="0.09" filter="url(#b3)"/>
<rect x="1037.4" y="255.7" width="22.0" height="3.0" rx="1.5" fill="#a4a4a4" opacity="0.2" filter="url(#b2)"/>
<rect x="1037.4" y="246.7" width="22.0" height="3.0" rx="1.5" fill="#a4a4a4" opacity="0.18" filter="url(#b2)"/>
<rect x="1037.4" y="278.2" width="22.0" height="4.0" rx="2.0" fill="#b0b0b0" opacity="0.1" filter="url(#b2)"/>
<path d="M1034.7,269.2 Q1036.9,267.1 1042.9,267.1 L1053.9,267.1 Q1060.0,267.1 1062.2,269.2 Q1060.0,271.3 1053.9,271.3 L1042.9,271.3 Q1036.9,271.3 1034.7,269.2 Z" fill="#303030" opacity="1.0" filter="url(#b1)" transform="rotate(2.5 1048.4 269.2)"/>
<rect x="1080.0" y="233.2" width="26" height="64.0" fill="#c6c6c6" opacity="0.09" filter="url(#b3)"/>
<rect x="1082.0" y="257.0" width="22.0" height="3.0" rx="1.5" fill="#a4a4a4" opacity="0.2" filter="url(#b2)"/>
<rect x="1082.0" y="248.0" width="22.0" height="3.0" rx="1.5" fill="#a4a4a4" opacity="0.18" filter="url(#b2)"/>
<rect x="1082.0" y="279.5" width="22.0" height="4.0" rx="2.0" fill="#b0b0b0" opacity="0.1" filter="url(#b2)"/>
<path d="M1079.2,270.5 Q1081.5,267.1 1087.5,267.1 L1098.5,267.1 Q1104.5,267.1 1106.8,270.5 Q1104.5,273.9 1098.5,273.9 L1087.5,273.9 Q1081.5,273.9 1079.2,270.5 Z" fill="#303030" opacity="1.0" filter="url(#b1)" transform="rotate(2.5 1093.0 270.5)"/>
<line x1="640" y1="249.5" x2="1117" y2="246.5" stroke="#f4f4f4" stroke-width="1" opacity="0.55"/>
<path d="M456,249.5 Q462,242 478,240.5 Q487,239.5 493,242" fill="none" stroke="#9a9a9a" stroke-width="0.6" opacity="0.5"/>
</g>
<rect x="128.8" y="229.2" width="988.6" height="72.0" fill="none" stroke="#0a0a0a" stroke-width="2"/>
<g clip-path="url(#cb3)">
<rect x="127.80000000000001" y="312.6" width="989.6" height="84.4" fill="url(#bg3)"/>
<rect x="301.3" y="353.0" width="25" height="48.0" fill="#b4b4b4" opacity="0.17" filter="url(#b2)"/>
<path d="M298.8,320.6 L328.8,320.6 L326.8,353.0 L300.8,353.0 Z" fill="#cfcfcf" opacity="0.30" filter="url(#b3)"/>
<rect x="301.8" y="368.7" width="24.0" height="2.8" rx="1.4" fill="#505050" opacity="0.10044000000000003" filter="url(#b2)"/>
<rect x="301.8" y="375.1" width="24.0" height="2.8" rx="1.4" fill="#505050" opacity="0.07533000000000001" filter="url(#b2)"/>
<rect x="301.8" y="381.5" width="24.0" height="2.8" rx="1.4" fill="#505050" opacity="0.05022" filter="url(#b2)"/>
<rect x="301.8" y="387.9" width="24.0" height="2.8" rx="1.4" fill="#505050" opacity="0.02511" filter="url(#b2)"/>
<rect x="301.3" y="356.9" width="25.0" height="5.0" rx="2.5" fill="#8a8a8a" opacity="0.27" filter="url(#b2)"/>
<rect x="301.8" y="366.2" width="24.0" height="5.0" rx="2.5" fill="#9a9a9a" opacity="0.18000000000000002" filter="url(#b2)"/>
<path d="M299.8,361.5 Q301.0,362.2 302.8,362.4 L324.8,362.4 Q326.6,362.2 327.9,361.5 L327.3,364.2 Q326.7,365.0 324.2,365.0 L303.4,365.0 Q300.9,365.0 300.3,364.2 Z" fill="#5a5a5a" opacity="1.0" filter="url(#b1)"/>
<path d="M298.5,347.2 Q299.9,349.0 301.8,349.6 L325.8,349.6 Q327.8,349.0 329.1,347.2 L328.5,354.8 Q327.9,357.0 325.2,357.0 L302.4,357.0 Q299.7,357.0 299.1,354.8 Z" fill="#060606" opacity="1.0" filter="url(#b0)"/>
<rect x="342.1" y="352.2" width="25" height="48.8" fill="#b4b4b4" opacity="0.17" filter="url(#b2)"/>
<path d="M339.6,320.6 L369.6,320.6 L367.6,352.2 L341.6,352.2 Z" fill="#cfcfcf" opacity="0.30" filter="url(#b3)"/>
<rect x="342.6" y="367.4" width="24.0" height="2.8" rx="1.4" fill="#505050" opacity="0.10044000000000003" filter="url(#b2)"/>
<rect x="342.6" y="373.8" width="24.0" height="2.8" rx="1.4" fill="#505050" opacity="0.07533000000000001" filter="url(#b2)"/>
<rect x="342.6" y="380.2" width="24.0" height="2.8" rx="1.4" fill="#505050" opacity="0.05022" filter="url(#b2)"/>
<rect x="342.6" y="386.6" width="24.0" height="2.8" rx="1.4" fill="#505050" opacity="0.02511" filter="url(#b2)"/>
<rect x="342.1" y="355.8" width="25.0" height="5.0" rx="2.5" fill="#8a8a8a" opacity="0.27" filter="url(#b2)"/>
<rect x="342.6" y="364.9" width="24.0" height="5.0" rx="2.5" fill="#9a9a9a" opacity="0.18000000000000002" filter="url(#b2)"/>
<path d="M340.6,360.1 Q341.8,360.8 343.6,361.0 L365.6,361.0 Q367.4,360.8 368.7,360.1 L368.1,363.0 Q367.5,363.8 365.1,363.8 L344.2,363.8 Q341.7,363.8 341.1,363.0 Z" fill="#505050" opacity="1.0" filter="url(#b1)"/>
<path d="M339.3,346.4 Q340.7,348.2 342.6,348.8 L366.6,348.8 Q368.6,348.2 369.9,346.4 L369.3,354.0 Q368.7,356.2 366.0,356.2 L343.2,356.2 Q340.5,356.2 339.9,354.0 Z" fill="#060606" opacity="1.0" filter="url(#b0)"/>
<rect x="382.9" y="349.6" width="25" height="51.4" fill="#b4b4b4" opacity="0.17" filter="url(#b2)"/>
<path d="M380.4,320.6 L410.4,320.6 L408.4,349.6 L382.4,349.6 Z" fill="#cfcfcf" opacity="0.30" filter="url(#b3)"/>
<rect x="383.4" y="364.8" width="24.0" height="2.8" rx="1.4" fill="#505050" opacity="0.10044000000000003" filter="url(#b2)"/>
<rect x="383.4" y="371.2" width="24.0" height="2.8" rx="1.4" fill="#505050" opacity="0.07533000000000001" filter="url(#b2)"/>
<rect x="383.4" y="377.6" width="24.0" height="2.8" rx="1.4" fill="#505050" opacity="0.05022" filter="url(#b2)"/>
<rect x="383.4" y="384.0" width="24.0" height="2.8" rx="1.4" fill="#505050" opacity="0.02511" filter="url(#b2)"/>
<rect x="382.9" y="353.2" width="25.0" height="5.0" rx="2.5" fill="#8a8a8a" opacity="0.27" filter="url(#b2)"/>
<rect x="383.4" y="362.3" width="24.0" height="5.0" rx="2.5" fill="#9a9a9a" opacity="0.18000000000000002" filter="url(#b2)"/>
<path d="M381.3,357.6 Q382.6,358.3 384.4,358.5 L406.4,358.5 Q408.2,358.3 409.4,357.6 L408.9,360.3 Q408.3,361.1 405.8,361.1 L384.9,361.1 Q382.5,361.1 381.9,360.3 Z" fill="#5a5a5a" opacity="1.0" filter="url(#b1)"/>
<path d="M380.1,343.9 Q381.4,345.7 383.4,346.3 L407.4,346.3 Q409.3,345.7 410.7,343.9 L410.1,351.3 Q409.5,353.5 406.8,353.5 L384.0,353.5 Q381.3,353.5 380.7,351.3 Z" fill="#060606" opacity="1.0" filter="url(#b0)"/>
<rect x="424.5" y="347.6" width="25" height="53.4" fill="#b4b4b4" opacity="0.17" filter="url(#b2)"/>
<path d="M422.0,320.6 L452.0,320.6 L450.0,347.6 L424.0,347.6 Z" fill="#cfcfcf" opacity="0.30" filter="url(#b3)"/>
<rect x="425.0" y="363.0" width="24.0" height="2.8" rx="1.4" fill="#505050" opacity="0.10044000000000003" filter="url(#b2)"/>
<rect x="425.0" y="369.4" width="24.0" height="2.8" rx="1.4" fill="#505050" opacity="0.07533000000000001" filter="url(#b2)"/>
<rect x="425.0" y="375.8" width="24.0" height="2.8" rx="1.4" fill="#505050" opacity="0.05022" filter="url(#b2)"/>
<rect x="425.0" y="382.2" width="24.0" height="2.8" rx="1.4" fill="#505050" opacity="0.02511" filter="url(#b2)"/>
<rect x="424.5" y="351.3" width="25.0" height="5.0" rx="2.5" fill="#8a8a8a" opacity="0.27" filter="url(#b2)"/>
<rect x="425.0" y="360.5" width="24.0" height="5.0" rx="2.5" fill="#9a9a9a" opacity="0.18000000000000002" filter="url(#b2)"/>
<path d="M422.9,355.8 Q424.2,356.5 426.0,356.7 L448.0,356.7 Q449.8,356.5 451.1,355.8 L450.5,358.5 Q449.9,359.3 447.4,359.3 L426.6,359.3 Q424.1,359.3 423.5,358.5 Z" fill="#5a5a5a" opacity="1.0" filter="url(#b1)"/>
<path d="M421.7,341.8 Q423.1,343.6 425.0,344.2 L449.0,344.2 Q450.9,343.6 452.3,341.8 L451.7,349.4 Q451.1,351.6 448.4,351.6 L425.6,351.6 Q422.9,351.6 422.3,349.4 Z" fill="#060606" opacity="1.0" filter="url(#b0)"/>
<rect x="465.8" y="343.3" width="25" height="57.7" fill="#b4b4b4" opacity="0.19" filter="url(#b2)"/>
<path d="M463.3,320.6 L493.3,320.6 L491.3,343.3 L465.3,343.3 Z" fill="#cfcfcf" opacity="0.30" filter="url(#b3)"/>
<rect x="466.3" y="359.7" width="24.0" height="2.8" rx="1.4" fill="#505050" opacity="0.15004000000000003" filter="url(#b2)"/>
<rect x="466.3" y="366.1" width="24.0" height="2.8" rx="1.4" fill="#505050" opacity="0.11253" filter="url(#b2)"/>
<rect x="466.3" y="372.5" width="24.0" height="2.8" rx="1.4" fill="#505050" opacity="0.07501999999999999" filter="url(#b2)"/>
<rect x="466.3" y="378.9" width="24.0" height="2.8" rx="1.4" fill="#505050" opacity="0.037509999999999995" filter="url(#b2)"/>
<rect x="465.8" y="347.5" width="25.0" height="5.0" rx="2.5" fill="#8a8a8a" opacity="0.33" filter="url(#b2)"/>
<rect x="466.3" y="357.2" width="24.0" height="5.0" rx="2.5" fill="#9a9a9a" opacity="0.22000000000000003" filter="url(#b2)"/>
<path d="M464.2,351.9 Q465.5,352.6 467.3,352.8 L489.3,352.8 Q491.1,352.6 492.4,351.9 L491.8,355.5 Q491.2,356.6 488.8,356.6 L467.9,356.6 Q465.4,356.6 464.8,355.5 Z" fill="#2a2a2a" opacity="1.0" filter="url(#b1)"/>
<path d="M463.0,335.8 Q464.4,338.5 466.3,339.4 L490.3,339.4 Q492.2,338.5 493.6,335.8 L493.0,345.3 Q492.4,347.8 489.7,347.8 L466.9,347.8 Q464.2,347.8 463.6,345.3 Z" fill="#060606" opacity="1.0" filter="url(#b0)"/>
<rect x="507.3" y="344.2" width="25" height="56.8" fill="#b4b4b4" opacity="0.26" filter="url(#b2)"/>
<path d="M504.8,320.6 L534.8,320.6 L532.8,344.2 L506.8,344.2 Z" fill="#cfcfcf" opacity="0.30" filter="url(#b3)"/>
<rect x="507.8" y="359.7" width="24.0" height="2.8" rx="1.4" fill="#505050" opacity="0.4017600000000001" filter="url(#b2)"/>
<rect x="507.8" y="366.1" width="24.0" height="2.8" rx="1.4" fill="#505050" opacity="0.30132000000000003" filter="url(#b2)"/>
<rect x="507.8" y="372.5" width="24.0" height="2.8" rx="1.4" fill="#505050" opacity="0.20088" filter="url(#b2)"/>
<rect x="507.8" y="378.9" width="24.0" height="2.8" rx="1.4" fill="#505050" opacity="0.10044" filter="url(#b2)"/>
<rect x="507.3" y="347.9" width="25.0" height="5.0" rx="2.5" fill="#8a8a8a" opacity="0.54" filter="url(#b2)"/>
<rect x="507.8" y="357.2" width="24.0" height="5.0" rx="2.5" fill="#9a9a9a" opacity="0.36000000000000004" filter="url(#b2)"/>
<path d="M505.7,350.8 Q507.0,351.5 508.8,351.7 L530.8,351.7 Q532.6,351.5 533.8,350.8 L533.3,355.9 Q532.7,357.7 530.2,357.7 L509.3,357.7 Q506.9,357.7 506.3,355.9 Z" fill="#111" opacity="1.0" filter="url(#b1)"/>
<path d="M504.5,335.4 Q505.8,338.1 507.8,339.0 L531.8,339.0 Q533.8,338.1 535.1,335.4 L534.5,346.7 Q533.9,350.0 531.2,350.0 L508.4,350.0 Q505.7,350.0 505.1,346.7 Z" fill="#060606" opacity="1.0" filter="url(#b0)"/>
<rect x="548.7" y="341.4" width="25" height="59.6" fill="#b4b4b4" opacity="0.25" filter="url(#b2)"/>
<path d="M546.2,320.6 L576.2,320.6 L574.2,341.4 L548.2,341.4 Z" fill="#cfcfcf" opacity="0.30" filter="url(#b3)"/>
<rect x="549.2" y="356.9" width="24.0" height="2.8" rx="1.4" fill="#505050" opacity="0.35836" filter="url(#b2)"/>
<rect x="549.2" y="363.3" width="24.0" height="2.8" rx="1.4" fill="#505050" opacity="0.26877" filter="url(#b2)"/>
<rect x="549.2" y="369.7" width="24.0" height="2.8" rx="1.4" fill="#505050" opacity="0.17917999999999998" filter="url(#b2)"/>
<rect x="549.2" y="376.1" width="24.0" height="2.8" rx="1.4" fill="#505050" opacity="0.08958999999999999" filter="url(#b2)"/>
<rect x="548.7" y="345.1" width="25.0" height="5.0" rx="2.5" fill="#8a8a8a" opacity="0.51" filter="url(#b2)"/>
<rect x="549.2" y="354.4" width="24.0" height="5.0" rx="2.5" fill="#9a9a9a" opacity="0.34" filter="url(#b2)"/>
<path d="M547.2,348.2 Q548.4,348.9 550.2,349.1 L572.2,349.1 Q574.0,348.9 575.2,348.2 L574.7,353.0 Q574.1,354.7 571.7,354.7 L550.8,354.7 Q548.3,354.7 547.7,353.0 Z" fill="#181818" opacity="1.0" filter="url(#b1)"/>
<path d="M545.9,332.3 Q547.2,335.0 549.2,335.9 L573.2,335.9 Q575.2,335.0 576.5,332.3 L575.9,344.0 Q575.3,347.5 572.6,347.5 L549.8,347.5 Q547.1,347.5 546.5,344.0 Z" fill="#060606" opacity="1.0" filter="url(#b0)"/>
<rect x="626.6" y="339.4" width="25" height="61.6" fill="#b4b4b4" opacity="0.18" filter="url(#b2)"/>
<path d="M624.1,320.6 L654.1,320.6 L652.1,339.4 L626.1,339.4 Z" fill="#cfcfcf" opacity="0.30" filter="url(#b3)"/>
<rect x="627.1" y="356.4" width="24.0" height="2.8" rx="1.4" fill="#505050" opacity="0.124" filter="url(#b2)"/>
<rect x="627.1" y="362.8" width="24.0" height="2.8" rx="1.4" fill="#505050" opacity="0.093" filter="url(#b2)"/>
<rect x="627.1" y="369.2" width="24.0" height="2.8" rx="1.4" fill="#505050" opacity="0.061999999999999986" filter="url(#b2)"/>
<rect x="627.1" y="375.6" width="24.0" height="2.8" rx="1.4" fill="#505050" opacity="0.030999999999999993" filter="url(#b2)"/>
<rect x="626.6" y="343.9" width="25.0" height="5.0" rx="2.5" fill="#8a8a8a" opacity="0.3" filter="url(#b2)"/>
<rect x="627.1" y="353.9" width="24.0" height="5.0" rx="2.5" fill="#9a9a9a" opacity="0.2" filter="url(#b2)"/>
<path d="M625.1,348.8 Q626.3,349.5 628.1,349.7 L650.1,349.7 Q651.9,349.5 653.1,348.8 L652.6,352.1 Q652.0,353.1 649.6,353.1 L628.6,353.1 Q626.2,353.1 625.6,352.1 Z" fill="#5a5a5a" opacity="1.0" filter="url(#b1)"/>
<path d="M623.8,331.2 Q625.1,333.9 627.1,334.8 L651.1,334.8 Q653.1,333.9 654.4,331.2 L653.8,341.7 Q653.2,344.6 650.5,344.6 L627.7,344.6 Q625.0,344.6 624.4,341.7 Z" fill="#060606" opacity="1.0" filter="url(#b0)"/>
<rect x="668.2" y="340.7" width="25" height="60.3" fill="#b4b4b4" opacity="0.22" filter="url(#b2)"/>
<path d="M665.7,320.6 L695.7,320.6 L693.7,340.7 L667.7,340.7 Z" fill="#cfcfcf" opacity="0.30" filter="url(#b3)"/>
<rect x="668.7" y="358.0" width="24.0" height="2.8" rx="1.4" fill="#505050" opacity="0.24303999999999998" filter="url(#b2)"/>
<rect x="668.7" y="364.4" width="24.0" height="2.8" rx="1.4" fill="#505050" opacity="0.18227999999999997" filter="url(#b2)"/>
<rect x="668.7" y="370.8" width="24.0" height="2.8" rx="1.4" fill="#505050" opacity="0.12151999999999996" filter="url(#b2)"/>
<rect x="668.7" y="377.2" width="24.0" height="2.8" rx="1.4" fill="#505050" opacity="0.06075999999999998" filter="url(#b2)"/>
<rect x="668.2" y="345.4" width="25.0" height="5.0" rx="2.5" fill="#8a8a8a" opacity="0.42" filter="url(#b2)"/>
<rect x="668.7" y="355.5" width="24.0" height="5.0" rx="2.5" fill="#9a9a9a" opacity="0.27999999999999997" filter="url(#b2)"/>
<path d="M666.7,349.7 Q667.9,350.4 669.7,350.6 L691.7,350.6 Q693.5,350.4 694.8,349.7 L694.2,354.0 Q693.6,355.4 691.2,355.4 L670.2,355.4 Q667.8,355.4 667.2,354.0 Z" fill="#222" opacity="1.0" filter="url(#b1)"/>
<path d="M665.4,332.0 Q666.8,334.7 668.7,335.6 L692.7,335.6 Q694.7,334.7 696.0,332.0 L695.4,343.2 Q694.8,346.4 692.1,346.4 L669.3,346.4 Q666.6,346.4 666.0,343.2 Z" fill="#060606" opacity="1.0" filter="url(#b0)"/>
<rect x="710.8" y="339.4" width="25" height="61.6" fill="#b4b4b4" opacity="0.20" filter="url(#b2)"/>
<path d="M708.3,320.6 L738.3,320.6 L736.3,339.4 L710.3,339.4 Z" fill="#cfcfcf" opacity="0.30" filter="url(#b3)"/>
<rect x="711.3" y="357.2" width="24.0" height="2.8" rx="1.4" fill="#505050" opacity="0.17856" filter="url(#b2)"/>
<rect x="711.3" y="363.6" width="24.0" height="2.8" rx="1.4" fill="#505050" opacity="0.13391999999999998" filter="url(#b2)"/>
<rect x="711.3" y="370.0" width="24.0" height="2.8" rx="1.4" fill="#505050" opacity="0.08927999999999997" filter="url(#b2)"/>
<rect x="711.3" y="376.4" width="24.0" height="2.8" rx="1.4" fill="#505050" opacity="0.044639999999999985" filter="url(#b2)"/>
<rect x="710.8" y="344.3" width="25.0" height="5.0" rx="2.5" fill="#8a8a8a" opacity="0.36" filter="url(#b2)"/>
<rect x="711.3" y="354.7" width="24.0" height="5.0" rx="2.5" fill="#9a9a9a" opacity="0.24" filter="url(#b2)"/>
<path d="M709.2,349.3 Q710.5,350.0 712.3,350.2 L734.3,350.2 Q736.1,350.0 737.3,349.3 L736.8,353.0 Q736.2,354.2 733.8,354.2 L712.8,354.2 Q710.4,354.2 709.8,353.0 Z" fill="#484848" opacity="1.0" filter="url(#b1)"/>
<path d="M708.0,330.9 Q709.3,333.6 711.3,334.5 L735.3,334.5 Q737.2,333.6 738.6,330.9 L738.0,341.8 Q737.4,344.9 734.7,344.9 L711.9,344.9 Q709.2,344.9 708.6,341.8 Z" fill="#060606" opacity="1.0" filter="url(#b0)"/>
<rect x="959.4" y="342.0" width="25" height="59.0" fill="#b4b4b4" opacity="0.20" filter="url(#b2)"/>
<path d="M956.9,320.6 L986.9,320.6 L984.9,342.0 L958.9,342.0 Z" fill="#cfcfcf" opacity="0.30" filter="url(#b3)"/>
<rect x="959.9" y="361.0" width="24.0" height="2.8" rx="1.4" fill="#505050" opacity="0.17856" filter="url(#b2)"/>
<rect x="959.9" y="367.4" width="24.0" height="2.8" rx="1.4" fill="#505050" opacity="0.13391999999999998" filter="url(#b2)"/>
<rect x="959.9" y="373.8" width="24.0" height="2.8" rx="1.4" fill="#505050" opacity="0.08927999999999997" filter="url(#b2)"/>
<rect x="959.9" y="380.2" width="24.0" height="2.8" rx="1.4" fill="#505050" opacity="0.044639999999999985" filter="url(#b2)"/>
<rect x="959.4" y="347.5" width="25.0" height="5.0" rx="2.5" fill="#8a8a8a" opacity="0.36" filter="url(#b2)"/>
<rect x="959.9" y="358.5" width="24.0" height="5.0" rx="2.5" fill="#9a9a9a" opacity="0.24" filter="url(#b2)"/>
<path d="M957.9,353.1 Q959.1,353.8 960.9,354.0 L982.9,354.0 Q984.7,353.8 985.9,353.1 L985.4,356.8 Q984.8,358.0 982.4,358.0 L961.4,358.0 Q959.0,358.0 958.4,356.8 Z" fill="#383838" opacity="1.0" filter="url(#b1)"/>
<path d="M956.6,333.8 Q957.9,336.5 959.9,337.4 L983.9,337.4 Q985.9,336.5 987.2,333.8 L986.6,344.3 Q986.0,347.2 983.3,347.2 L960.5,347.2 Q957.8,347.2 957.2,344.3 Z" fill="#060606" opacity="1.0" filter="url(#b0)"/>
<rect x="999.4" y="344.5" width="25" height="56.5" fill="#b4b4b4" opacity="0.24" filter="url(#b2)"/>
<path d="M996.9,320.6 L1026.9,320.6 L1024.9,344.5 L998.9,344.5 Z" fill="#cfcfcf" opacity="0.30" filter="url(#b3)"/>
<rect x="999.9" y="363.5" width="24.0" height="2.8" rx="1.4" fill="#505050" opacity="0.31744000000000006" filter="url(#b2)"/>
<rect x="999.9" y="369.9" width="24.0" height="2.8" rx="1.4" fill="#505050" opacity="0.23808" filter="url(#b2)"/>
<rect x="999.9" y="376.3" width="24.0" height="2.8" rx="1.4" fill="#505050" opacity="0.15871999999999997" filter="url(#b2)"/>
<rect x="999.9" y="382.7" width="24.0" height="2.8" rx="1.4" fill="#505050" opacity="0.07935999999999999" filter="url(#b2)"/>
<rect x="999.4" y="350.0" width="25.0" height="5.0" rx="2.5" fill="#8a8a8a" opacity="0.48" filter="url(#b2)"/>
<rect x="999.9" y="361.0" width="24.0" height="5.0" rx="2.5" fill="#9a9a9a" opacity="0.32000000000000006" filter="url(#b2)"/>
<path d="M997.9,354.8 Q999.1,355.5 1000.9,355.7 L1022.9,355.7 Q1024.7,355.5 1026.0,354.8 L1025.4,359.6 Q1024.8,361.3 1022.4,361.3 L1001.4,361.3 Q999.0,361.3 998.4,359.6 Z" fill="#151515" opacity="1.0" filter="url(#b1)"/>
<path d="M996.6,335.1 Q997.9,337.8 999.9,338.7 L1023.9,338.7 Q1025.9,337.8 1027.2,335.1 L1026.6,347.2 Q1026.0,350.9 1023.3,350.9 L1000.5,350.9 Q997.8,350.9 997.2,347.2 Z" fill="#060606" opacity="1.0" filter="url(#b0)"/>
<rect x="1040.2" y="345.3" width="25" height="55.7" fill="#b4b4b4" opacity="0.24" filter="url(#b2)"/>
<path d="M1037.7,320.6 L1067.7,320.6 L1065.7,345.3 L1039.7,345.3 Z" fill="#cfcfcf" opacity="0.30" filter="url(#b3)"/>
<rect x="1040.7" y="363.5" width="24.0" height="2.8" rx="1.4" fill="#505050" opacity="0.31744000000000006" filter="url(#b2)"/>
<rect x="1040.7" y="369.9" width="24.0" height="2.8" rx="1.4" fill="#505050" opacity="0.23808" filter="url(#b2)"/>
<rect x="1040.7" y="376.3" width="24.0" height="2.8" rx="1.4" fill="#505050" opacity="0.15871999999999997" filter="url(#b2)"/>
<rect x="1040.7" y="382.7" width="24.0" height="2.8" rx="1.4" fill="#505050" opacity="0.07935999999999999" filter="url(#b2)"/>
<rect x="1040.2" y="350.4" width="25.0" height="5.0" rx="2.5" fill="#8a8a8a" opacity="0.48" filter="url(#b2)"/>
<rect x="1040.7" y="361.0" width="24.0" height="5.0" rx="2.5" fill="#9a9a9a" opacity="0.32000000000000006" filter="url(#b2)"/>
<path d="M1038.7,354.8 Q1039.9,355.5 1041.7,355.7 L1063.7,355.7 Q1065.5,355.5 1066.8,354.8 L1066.2,359.6 Q1065.6,361.3 1063.2,361.3 L1042.2,361.3 Q1039.8,361.3 1039.2,359.6 Z" fill="#151515" opacity="1.0" filter="url(#b1)"/>
<path d="M1037.4,336.3 Q1038.8,339.0 1040.7,339.9 L1064.7,339.9 Q1066.7,339.0 1068.0,336.3 L1067.4,347.9 Q1066.8,351.3 1064.1,351.3 L1041.3,351.3 Q1038.6,351.3 1038.0,347.9 Z" fill="#060606" opacity="1.0" filter="url(#b0)"/>
<rect x="590.2" y="338.2" width="25" height="62.8" fill="#c4c4c4" opacity="0.18" filter="url(#b2)"/>
<path d="M589.4,335.8 Q590.6,336.5 592.3,336.7 L613.1,336.7 Q614.8,336.5 616.0,335.8 L615.4,338.8 Q614.9,339.7 612.6,339.7 L592.8,339.7 Q590.5,339.7 590.0,338.8 Z" fill="#9a9a9a" opacity="1.0" filter="url(#b1)"/>
<rect x="591.2" y="348.5" width="23.0" height="2.4" rx="1.2" fill="#b4b4b4" opacity="0.45" filter="url(#b2)"/>
<rect x="751.6" y="342.0" width="25" height="59.0" fill="#c4c4c4" opacity="0.18" filter="url(#b2)"/>
<path d="M750.8,339.6 Q752.0,340.3 753.7,340.5 L774.5,340.5 Q776.2,340.3 777.4,339.6 L776.8,342.6 Q776.3,343.5 774.0,343.5 L754.2,343.5 Q751.9,343.5 751.4,342.6 Z" fill="#a0a0a0" opacity="1.0" filter="url(#b1)"/>
<rect x="752.6" y="352.3" width="23.0" height="2.4" rx="1.2" fill="#b4b4b4" opacity="0.45" filter="url(#b2)"/>
<rect x="792.4" y="340.7" width="25" height="60.3" fill="#c4c4c4" opacity="0.18" filter="url(#b2)"/>
<path d="M791.6,338.1 Q792.8,338.8 794.5,339.0 L815.3,339.0 Q817.0,338.8 818.2,338.1 L817.6,341.4 Q817.1,342.4 814.8,342.4 L795.0,342.4 Q792.7,342.4 792.2,341.4 Z" fill="#8a8a8a" opacity="1.0" filter="url(#b1)"/>
<rect x="793.4" y="351.0" width="23.0" height="2.4" rx="1.2" fill="#b4b4b4" opacity="0.45" filter="url(#b2)"/>
<rect x="834.5" y="342.7" width="25" height="58.3" fill="#c4c4c4" opacity="0.18" filter="url(#b2)"/>
<path d="M833.7,339.8 Q834.9,340.5 836.6,340.7 L857.4,340.7 Q859.1,340.5 860.3,339.8 L859.7,343.5 Q859.2,344.7 856.9,344.7 L837.1,344.7 Q834.8,344.7 834.3,343.5 Z" fill="#6e6e6e" opacity="1.0" filter="url(#b1)"/>
<rect x="835.5" y="353.0" width="23.0" height="2.4" rx="1.2" fill="#b4b4b4" opacity="0.45" filter="url(#b2)"/>
<rect x="875.8" y="344.5" width="25" height="56.5" fill="#c4c4c4" opacity="0.18" filter="url(#b2)"/>
<path d="M875.0,341.3 Q876.2,342.0 877.9,342.2 L898.7,342.2 Q900.4,342.0 901.6,341.3 L901.0,345.4 Q900.5,346.8 898.2,346.8 L878.4,346.8 Q876.1,346.8 875.6,345.4 Z" fill="#5e5e5e" opacity="1.0" filter="url(#b1)"/>
<rect x="876.8" y="354.8" width="23.0" height="2.4" rx="1.2" fill="#b4b4b4" opacity="0.45" filter="url(#b2)"/>
<rect x="916.8" y="344.5" width="25" height="56.5" fill="#c4c4c4" opacity="0.18" filter="url(#b2)"/>
<path d="M916.0,342.1 Q917.2,342.8 918.9,343.0 L939.7,343.0 Q941.4,342.8 942.6,342.1 L942.0,345.1 Q941.5,346.0 939.2,346.0 L919.4,346.0 Q917.1,346.0 916.6,345.1 Z" fill="#b8b8b8" opacity="1.0" filter="url(#b1)"/>
<rect x="917.8" y="354.8" width="23.0" height="2.4" rx="1.2" fill="#b4b4b4" opacity="0.45" filter="url(#b2)"/>
<rect x="1080.5" y="349.6" width="25" height="51.4" fill="#c4c4c4" opacity="0.18" filter="url(#b2)"/>
<path d="M1079.7,346.6 Q1080.9,347.3 1082.6,347.5 L1103.4,347.5 Q1105.1,347.3 1106.3,346.6 L1105.7,350.4 Q1105.2,351.7 1102.9,351.7 L1083.1,351.7 Q1080.8,351.7 1080.3,350.4 Z" fill="#7a7a7a" opacity="1.0" filter="url(#b1)"/>
<rect x="1081.5" y="359.9" width="23.0" height="2.4" rx="1.2" fill="#b4b4b4" opacity="0.45" filter="url(#b2)"/>
<rect x="137.0" y="361.0" width="22.0" height="6.0" rx="3.0" fill="#d2d6de" opacity="0.55" filter="url(#b3)"/>
<rect x="179.0" y="361.0" width="22.0" height="6.0" rx="3.0" fill="#d2d6de" opacity="0.55" filter="url(#b3)"/>
<rect x="221.0" y="361.0" width="22.0" height="6.0" rx="3.0" fill="#d2d6de" opacity="0.55" filter="url(#b3)"/>
<rect x="263.0" y="361.0" width="22.0" height="6.0" rx="3.0" fill="#d2d6de" opacity="0.55" filter="url(#b3)"/>
</g>
<rect x="127.6" y="312.6" width="988.8" height="84.4" fill="none" stroke="#0a0a0a" stroke-width="2"/>
<g clip-path="url(#cb4)">
<rect x="128.8" y="407.2" width="988.6" height="80.8" fill="url(#bg4)"/>
<rect x="302.6" y="444.2" width="25" height="47.8" fill="#b8b8b8" opacity="0.20" filter="url(#b2)"/>
<path d="M300.1,415.2 L330.1,415.2 L328.1,444.2 L302.1,444.2 Z" fill="#d0d0d0" opacity="0.28" filter="url(#b3)"/>
<rect x="303.1" y="466.5" width="24.0" height="2.2" rx="1.1" fill="#8e8e8e" opacity="0.5" filter="url(#b2)"/>
<rect x="303.6" y="476.6" width="23.0" height="2.0" rx="1.0" fill="#a4a4a4" opacity="0.25" filter="url(#b2)"/>
<rect x="303.6" y="459.5" width="23.0" height="2.0" rx="1.0" fill="#a4a4a4" opacity="0.25" filter="url(#b2)"/>
<rect x="302.6" y="447.2" width="25.0" height="5.0" rx="2.5" fill="#8a8a8a" opacity="0.55" filter="url(#b2)"/>
<rect x="303.1" y="456.8" width="24.0" height="5.0" rx="2.5" fill="#a0a0a0" opacity="0.3" filter="url(#b2)"/>
<path d="M300.8,450.3 Q302.1,451.0 303.9,451.2 L326.3,451.2 Q328.1,451.0 329.4,450.3 L328.8,454.1 Q328.3,455.4 325.7,455.4 L304.5,455.4 Q301.9,455.4 301.4,454.1 Z" fill="#2a2a2a" opacity="1.0" filter="url(#b1)"/>
<path d="M299.8,438.8 Q301.2,440.5 303.1,441.1 L327.1,441.1 Q329.1,440.5 330.4,438.8 L329.8,445.4 Q329.2,447.3 326.5,447.3 L303.7,447.3 Q301.0,447.3 300.4,445.4 Z" fill="#161616" opacity="1.0" filter="url(#b0)"/>
<rect x="343.4" y="443.6" width="25" height="48.4" fill="#b8b8b8" opacity="0.20" filter="url(#b2)"/>
<path d="M340.9,415.2 L370.9,415.2 L368.9,443.6 L342.9,443.6 Z" fill="#d0d0d0" opacity="0.28" filter="url(#b3)"/>
<rect x="343.9" y="466.5" width="24.0" height="2.2" rx="1.1" fill="#8e8e8e" opacity="0.5" filter="url(#b2)"/>
<rect x="344.4" y="476.6" width="23.0" height="2.0" rx="1.0" fill="#a4a4a4" opacity="0.25" filter="url(#b2)"/>
<rect x="344.4" y="459.1" width="23.0" height="2.0" rx="1.0" fill="#a4a4a4" opacity="0.25" filter="url(#b2)"/>
<rect x="343.4" y="446.6" width="25.0" height="5.0" rx="2.5" fill="#8a8a8a" opacity="0.55" filter="url(#b2)"/>
<rect x="343.9" y="456.1" width="24.0" height="5.0" rx="2.5" fill="#a0a0a0" opacity="0.3" filter="url(#b2)"/>
<path d="M341.6,449.6 Q342.9,450.3 344.7,450.5 L367.1,450.5 Q368.9,450.3 370.2,449.6 L369.6,453.4 Q369.1,454.7 366.5,454.7 L345.3,454.7 Q342.7,454.7 342.2,453.4 Z" fill="#2a2a2a" opacity="1.0" filter="url(#b1)"/>
<path d="M340.6,438.2 Q341.9,439.9 343.9,440.5 L367.9,440.5 Q369.8,439.9 371.2,438.2 L370.6,444.8 Q370.0,446.7 367.3,446.7 L344.5,446.7 Q341.8,446.7 341.2,444.8 Z" fill="#161616" opacity="1.0" filter="url(#b0)"/>
<rect x="384.7" y="441.6" width="25" height="50.4" fill="#b8b8b8" opacity="0.20" filter="url(#b2)"/>
<path d="M382.2,415.2 L412.2,415.2 L410.2,441.6 L384.2,441.6 Z" fill="#d0d0d0" opacity="0.28" filter="url(#b3)"/>
<rect x="385.2" y="463.9" width="24.0" height="2.2" rx="1.1" fill="#8e8e8e" opacity="0.5" filter="url(#b2)"/>
<rect x="385.7" y="474.0" width="23.0" height="2.0" rx="1.0" fill="#a4a4a4" opacity="0.25" filter="url(#b2)"/>
<rect x="385.7" y="456.6" width="23.0" height="2.0" rx="1.0" fill="#a4a4a4" opacity="0.25" filter="url(#b2)"/>
<rect x="384.7" y="444.4" width="25.0" height="5.0" rx="2.5" fill="#8a8a8a" opacity="0.55" filter="url(#b2)"/>
<rect x="385.2" y="453.7" width="24.0" height="5.0" rx="2.5" fill="#a0a0a0" opacity="0.3" filter="url(#b2)"/>
<path d="M382.9,447.3 Q384.2,448.0 386.0,448.2 L408.4,448.2 Q410.2,448.0 411.5,447.3 L410.9,451.0 Q410.4,452.2 407.8,452.2 L386.6,452.2 Q384.0,452.2 383.5,451.0 Z" fill="#2e2e2e" opacity="1.0" filter="url(#b1)"/>
<path d="M381.9,436.2 Q383.2,437.9 385.2,438.5 L409.2,438.5 Q411.1,437.9 412.5,436.2 L411.9,442.8 Q411.3,444.7 408.6,444.7 L385.8,444.7 Q383.1,444.7 382.5,442.8 Z" fill="#161616" opacity="1.0" filter="url(#b0)"/>
<rect x="425.7" y="440.3" width="25" height="51.7" fill="#b8b8b8" opacity="0.20" filter="url(#b2)"/>
<path d="M423.2,415.2 L453.2,415.2 L451.2,440.3 L425.2,440.3 Z" fill="#d0d0d0" opacity="0.28" filter="url(#b3)"/>
<rect x="426.2" y="462.1" width="24.0" height="2.2" rx="1.1" fill="#8e8e8e" opacity="0.5" filter="url(#b2)"/>
<rect x="426.7" y="472.2" width="23.0" height="2.0" rx="1.0" fill="#a4a4a4" opacity="0.25" filter="url(#b2)"/>
<rect x="426.7" y="455.1" width="23.0" height="2.0" rx="1.0" fill="#a4a4a4" opacity="0.25" filter="url(#b2)"/>
<rect x="425.7" y="443.1" width="25.0" height="5.0" rx="2.5" fill="#8a8a8a" opacity="0.55" filter="url(#b2)"/>
<rect x="426.2" y="452.5" width="24.0" height="5.0" rx="2.5" fill="#a0a0a0" opacity="0.3" filter="url(#b2)"/>
<path d="M423.9,446.1 Q425.2,446.8 427.0,447.0 L449.4,447.0 Q451.2,446.8 452.5,446.1 L451.9,449.8 Q451.4,451.0 448.8,451.0 L427.6,451.0 Q425.0,451.0 424.5,449.8 Z" fill="#2e2e2e" opacity="1.0" filter="url(#b1)"/>
<path d="M422.9,434.9 Q424.2,436.6 426.2,437.2 L450.2,437.2 Q452.1,436.6 453.5,434.9 L452.9,441.5 Q452.3,443.4 449.6,443.4 L426.8,443.4 Q424.1,443.4 423.5,441.5 Z" fill="#161616" opacity="1.0" filter="url(#b0)"/>
<rect x="467.1" y="434.9" width="25" height="57.1" fill="#b8b8b8" opacity="0.20" filter="url(#b2)"/>
<path d="M464.6,415.2 L494.6,415.2 L492.6,434.9 L466.6,434.9 Z" fill="#d0d0d0" opacity="0.28" filter="url(#b3)"/>
<rect x="467.6" y="459.9" width="24.0" height="2.2" rx="1.1" fill="#8e8e8e" opacity="0.5" filter="url(#b2)"/>
<rect x="468.1" y="470.0" width="23.0" height="2.0" rx="1.0" fill="#a4a4a4" opacity="0.25" filter="url(#b2)"/>
<rect x="468.1" y="452.6" width="23.0" height="2.0" rx="1.0" fill="#a4a4a4" opacity="0.25" filter="url(#b2)"/>
<rect x="467.1" y="439.1" width="25.0" height="5.0" rx="2.5" fill="#8a8a8a" opacity="0.55" filter="url(#b2)"/>
<rect x="467.6" y="449.8" width="24.0" height="5.0" rx="2.5" fill="#a0a0a0" opacity="0.3" filter="url(#b2)"/>
<path d="M465.3,443.8 Q466.6,444.5 468.4,444.7 L490.8,444.7 Q492.6,444.5 493.9,443.8 L493.3,446.9 Q492.8,447.9 490.2,447.9 L469.0,447.9 Q466.4,447.9 465.9,446.9 Z" fill="#5a5a5a" opacity="1.0" filter="url(#b1)"/>
<path d="M464.3,429.7 Q465.7,431.4 467.6,432.0 L491.6,432.0 Q493.6,431.4 494.9,429.7 L494.3,436.1 Q493.7,437.8 491.0,437.8 L468.2,437.8 Q465.5,437.8 464.9,436.1 Z" fill="#161616" opacity="1.0" filter="url(#b0)"/>
<rect x="509.1" y="433.9" width="25" height="58.1" fill="#b8b8b8" opacity="0.20" filter="url(#b2)"/>
<path d="M506.6,415.2 L536.6,415.2 L534.6,433.9 L508.6,433.9 Z" fill="#d0d0d0" opacity="0.28" filter="url(#b3)"/>
<rect x="509.6" y="459.3" width="24.0" height="2.2" rx="1.1" fill="#8e8e8e" opacity="0.5" filter="url(#b2)"/>
<rect x="510.1" y="469.4" width="23.0" height="2.0" rx="1.0" fill="#a4a4a4" opacity="0.25" filter="url(#b2)"/>
<rect x="510.1" y="452.4" width="23.0" height="2.0" rx="1.0" fill="#a4a4a4" opacity="0.25" filter="url(#b2)"/>
<rect x="509.1" y="438.7" width="25.0" height="5.0" rx="2.5" fill="#8a8a8a" opacity="0.55" filter="url(#b2)"/>
<rect x="509.6" y="450.0" width="24.0" height="5.0" rx="2.5" fill="#a0a0a0" opacity="0.3" filter="url(#b2)"/>
<path d="M507.3,443.4 Q508.6,444.0 510.4,444.2 L532.8,444.2 Q534.6,444.0 535.9,443.4 L535.3,447.4 Q534.8,448.8 532.2,448.8 L511.0,448.8 Q508.4,448.8 507.9,447.4 Z" fill="#2a2a2a" opacity="1.0" filter="url(#b1)"/>
<path d="M506.3,426.6 Q507.7,428.8 509.6,429.6 L533.6,429.6 Q535.6,428.8 536.9,426.6 L536.3,435.6 Q535.7,438.2 533.0,438.2 L510.2,438.2 Q507.5,438.2 506.9,435.6 Z" fill="#161616" opacity="1.0" filter="url(#b0)"/>
<rect x="549.9" y="432.1" width="25" height="59.9" fill="#b8b8b8" opacity="0.20" filter="url(#b2)"/>
<path d="M547.4,415.2 L577.4,415.2 L575.4,432.1 L549.4,432.1 Z" fill="#d0d0d0" opacity="0.28" filter="url(#b3)"/>
<rect x="550.4" y="456.9" width="24.0" height="2.2" rx="1.1" fill="#8e8e8e" opacity="0.5" filter="url(#b2)"/>
<rect x="550.9" y="467.0" width="23.0" height="2.0" rx="1.0" fill="#a4a4a4" opacity="0.25" filter="url(#b2)"/>
<rect x="550.9" y="449.7" width="23.0" height="2.0" rx="1.0" fill="#a4a4a4" opacity="0.25" filter="url(#b2)"/>
<rect x="549.9" y="436.2" width="25.0" height="5.0" rx="2.5" fill="#8a8a8a" opacity="0.55" filter="url(#b2)"/>
<rect x="550.4" y="446.9" width="24.0" height="5.0" rx="2.5" fill="#a0a0a0" opacity="0.3" filter="url(#b2)"/>
<path d="M548.1,440.2 Q549.4,440.9 551.2,441.1 L573.6,441.1 Q575.4,440.9 576.7,440.2 L576.1,444.3 Q575.6,445.6 573.0,445.6 L551.8,445.6 Q549.2,445.6 548.7,444.3 Z" fill="#363636" opacity="1.0" filter="url(#b1)"/>
<path d="M547.1,424.8 Q548.4,427.1 550.4,427.8 L574.4,427.8 Q576.4,427.1 577.7,424.8 L577.1,433.8 Q576.5,436.4 573.8,436.4 L551.0,436.4 Q548.3,436.4 547.7,433.8 Z" fill="#161616" opacity="1.0" filter="url(#b0)"/>
<rect x="591.2" y="431.1" width="25" height="60.9" fill="#b8b8b8" opacity="0.20" filter="url(#b2)"/>
<path d="M588.7,415.2 L618.7,415.2 L616.7,431.1 L590.7,431.1 Z" fill="#d0d0d0" opacity="0.28" filter="url(#b3)"/>
<rect x="591.7" y="455.9" width="24.0" height="2.2" rx="1.1" fill="#8e8e8e" opacity="0.5" filter="url(#b2)"/>
<rect x="592.2" y="466.0" width="23.0" height="2.0" rx="1.0" fill="#a4a4a4" opacity="0.25" filter="url(#b2)"/>
<rect x="592.2" y="448.5" width="23.0" height="2.0" rx="1.0" fill="#a4a4a4" opacity="0.25" filter="url(#b2)"/>
<rect x="591.2" y="435.1" width="25.0" height="5.0" rx="2.5" fill="#8a8a8a" opacity="0.55" filter="url(#b2)"/>
<rect x="591.7" y="445.5" width="24.0" height="5.0" rx="2.5" fill="#a0a0a0" opacity="0.3" filter="url(#b2)"/>
<path d="M589.4,439.3 Q590.7,440.0 592.5,440.2 L614.9,440.2 Q616.7,440.0 618.0,439.3 L617.4,442.7 Q616.9,443.8 614.3,443.8 L593.1,443.8 Q590.5,443.8 590.0,442.7 Z" fill="#5a5a5a" opacity="1.0" filter="url(#b1)"/>
<path d="M588.4,424.0 Q589.8,426.2 591.7,427.0 L615.7,427.0 Q617.7,426.2 619.0,424.0 L618.4,432.7 Q617.8,435.2 615.1,435.2 L592.3,435.2 Q589.6,435.2 589.0,432.7 Z" fill="#161616" opacity="1.0" filter="url(#b0)"/>
<rect x="629.2" y="431.9" width="25" height="60.1" fill="#b8b8b8" opacity="0.20" filter="url(#b2)"/>
<path d="M626.7,415.2 L656.7,415.2 L654.7,431.9 L628.7,431.9 Z" fill="#d0d0d0" opacity="0.28" filter="url(#b3)"/>
<rect x="629.7" y="456.9" width="24.0" height="2.2" rx="1.1" fill="#8e8e8e" opacity="0.5" filter="url(#b2)"/>
<rect x="630.2" y="467.0" width="23.0" height="2.0" rx="1.0" fill="#a4a4a4" opacity="0.25" filter="url(#b2)"/>
<rect x="630.2" y="449.4" width="23.0" height="2.0" rx="1.0" fill="#a4a4a4" opacity="0.25" filter="url(#b2)"/>
<rect x="629.2" y="435.9" width="25.0" height="5.0" rx="2.5" fill="#8a8a8a" opacity="0.55" filter="url(#b2)"/>
<rect x="629.7" y="446.3" width="24.0" height="5.0" rx="2.5" fill="#a0a0a0" opacity="0.3" filter="url(#b2)"/>
<path d="M627.4,439.8 Q628.7,440.4 630.5,440.7 L652.9,440.7 Q654.7,440.4 656.0,439.8 L655.4,443.7 Q654.9,444.9 652.3,444.9 L631.1,444.9 Q628.5,444.9 628.0,443.7 Z" fill="#484848" opacity="1.0" filter="url(#b1)"/>
<path d="M626.4,424.5 Q627.8,426.8 629.7,427.5 L653.7,427.5 Q655.7,426.8 657.0,424.5 L656.4,433.6 Q655.8,436.2 653.1,436.2 L630.3,436.2 Q627.6,436.2 627.0,433.6 Z" fill="#161616" opacity="1.0" filter="url(#b0)"/>
<rect x="670.0" y="433.1" width="25" height="58.9" fill="#b8b8b8" opacity="0.20" filter="url(#b2)"/>
<path d="M667.5,415.2 L697.5,415.2 L695.5,433.1 L669.5,433.1 Z" fill="#d0d0d0" opacity="0.28" filter="url(#b3)"/>
<rect x="670.5" y="458.3" width="24.0" height="2.2" rx="1.1" fill="#8e8e8e" opacity="0.5" filter="url(#b2)"/>
<rect x="671.0" y="468.4" width="23.0" height="2.0" rx="1.0" fill="#a4a4a4" opacity="0.25" filter="url(#b2)"/>
<rect x="671.0" y="450.8" width="23.0" height="2.0" rx="1.0" fill="#a4a4a4" opacity="0.25" filter="url(#b2)"/>
<rect x="670.0" y="437.1" width="25.0" height="5.0" rx="2.5" fill="#8a8a8a" opacity="0.55" filter="url(#b2)"/>
<rect x="670.5" y="447.7" width="24.0" height="5.0" rx="2.5" fill="#a0a0a0" opacity="0.3" filter="url(#b2)"/>
<path d="M668.2,440.9 Q669.5,441.6 671.3,441.8 L693.7,441.8 Q695.5,441.6 696.8,440.9 L696.2,445.1 Q695.7,446.6 693.1,446.6 L671.9,446.6 Q669.3,446.6 668.8,445.1 Z" fill="#2e2e2e" opacity="1.0" filter="url(#b1)"/>
<path d="M667.2,425.8 Q668.5,428.0 670.5,428.8 L694.5,428.8 Q696.5,428.0 697.8,425.8 L697.2,434.8 Q696.6,437.5 693.9,437.5 L671.1,437.5 Q668.4,437.5 667.8,434.8 Z" fill="#161616" opacity="1.0" filter="url(#b0)"/>
<rect x="712.1" y="432.4" width="25" height="59.6" fill="#b8b8b8" opacity="0.20" filter="url(#b2)"/>
<path d="M709.6,415.2 L739.6,415.2 L737.6,432.4 L711.6,432.4 Z" fill="#d0d0d0" opacity="0.28" filter="url(#b3)"/>
<rect x="712.6" y="458.3" width="24.0" height="2.2" rx="1.1" fill="#8e8e8e" opacity="0.5" filter="url(#b2)"/>
<rect x="713.1" y="468.4" width="23.0" height="2.0" rx="1.0" fill="#a4a4a4" opacity="0.25" filter="url(#b2)"/>
<rect x="713.1" y="450.5" width="23.0" height="2.0" rx="1.0" fill="#a4a4a4" opacity="0.25" filter="url(#b2)"/>
<rect x="712.1" y="436.5" width="25.0" height="5.0" rx="2.5" fill="#8a8a8a" opacity="0.55" filter="url(#b2)"/>
<rect x="712.6" y="447.1" width="24.0" height="5.0" rx="2.5" fill="#a0a0a0" opacity="0.3" filter="url(#b2)"/>
<path d="M710.3,440.6 Q711.6,441.2 713.4,441.5 L735.8,441.5 Q737.6,441.2 738.9,440.6 L738.3,444.5 Q737.8,445.8 735.2,445.8 L714.0,445.8 Q711.4,445.8 710.9,444.5 Z" fill="#484848" opacity="1.0" filter="url(#b1)"/>
<path d="M709.3,425.2 Q710.6,427.5 712.6,428.2 L736.6,428.2 Q738.6,427.5 739.9,425.2 L739.3,434.1 Q738.7,436.5 736.0,436.5 L713.2,436.5 Q710.5,436.5 709.9,434.1 Z" fill="#161616" opacity="1.0" filter="url(#b0)"/>
<rect x="752.9" y="433.1" width="25" height="58.9" fill="#b8b8b8" opacity="0.20" filter="url(#b2)"/>
<path d="M750.4,415.2 L780.4,415.2 L778.4,433.1 L752.4,433.1 Z" fill="#d0d0d0" opacity="0.28" filter="url(#b3)"/>
<rect x="753.4" y="459.6" width="24.0" height="2.2" rx="1.1" fill="#8e8e8e" opacity="0.5" filter="url(#b2)"/>
<rect x="753.9" y="469.7" width="23.0" height="2.0" rx="1.0" fill="#a4a4a4" opacity="0.25" filter="url(#b2)"/>
<rect x="753.9" y="451.7" width="23.0" height="2.0" rx="1.0" fill="#a4a4a4" opacity="0.25" filter="url(#b2)"/>
<rect x="752.9" y="437.4" width="25.0" height="5.0" rx="2.5" fill="#8a8a8a" opacity="0.55" filter="url(#b2)"/>
<rect x="753.4" y="448.2" width="24.0" height="5.0" rx="2.5" fill="#a0a0a0" opacity="0.3" filter="url(#b2)"/>
<path d="M751.1,441.6 Q752.4,442.2 754.2,442.4 L776.6,442.4 Q778.4,442.2 779.7,441.6 L779.1,445.6 Q778.6,446.9 776.0,446.9 L754.8,446.9 Q752.2,446.9 751.7,445.6 Z" fill="#3c3c3c" opacity="1.0" filter="url(#b1)"/>
<path d="M750.1,426.0 Q751.4,428.2 753.4,429.0 L777.4,429.0 Q779.4,428.2 780.7,426.0 L780.1,434.8 Q779.5,437.2 776.8,437.2 L754.0,437.2 Q751.3,437.2 750.7,434.8 Z" fill="#161616" opacity="1.0" filter="url(#b0)"/>
<rect x="793.7" y="432.4" width="25" height="59.6" fill="#b8b8b8" opacity="0.20" filter="url(#b2)"/>
<path d="M791.2,415.2 L821.2,415.2 L819.2,432.4 L793.2,432.4 Z" fill="#d0d0d0" opacity="0.28" filter="url(#b3)"/>
<rect x="794.2" y="459.6" width="24.0" height="2.2" rx="1.1" fill="#8e8e8e" opacity="0.5" filter="url(#b2)"/>
<rect x="794.7" y="469.7" width="23.0" height="2.0" rx="1.0" fill="#a4a4a4" opacity="0.25" filter="url(#b2)"/>
<rect x="794.7" y="451.1" width="23.0" height="2.0" rx="1.0" fill="#a4a4a4" opacity="0.25" filter="url(#b2)"/>
<rect x="793.7" y="436.5" width="25.0" height="5.0" rx="2.5" fill="#8a8a8a" opacity="0.55" filter="url(#b2)"/>
<rect x="794.2" y="447.1" width="24.0" height="5.0" rx="2.5" fill="#a0a0a0" opacity="0.3" filter="url(#b2)"/>
<path d="M791.9,440.7 Q793.2,441.3 795.0,441.6 L817.4,441.6 Q819.2,441.3 820.5,440.7 L819.9,444.4 Q819.4,445.7 816.8,445.7 L795.6,445.7 Q793.0,445.7 792.5,444.4 Z" fill="#4c4c4c" opacity="1.0" filter="url(#b1)"/>
<path d="M790.9,425.3 Q792.2,427.6 794.2,428.3 L818.2,428.3 Q820.2,427.6 821.5,425.3 L820.9,434.0 Q820.3,436.4 817.6,436.4 L794.8,436.4 Q792.1,436.4 791.5,434.0 Z" fill="#161616" opacity="1.0" filter="url(#b0)"/>
<rect x="834.5" y="433.7" width="25" height="58.3" fill="#b8b8b8" opacity="0.20" filter="url(#b2)"/>
<path d="M832.0,415.2 L862.0,415.2 L860.0,433.7 L834.0,433.7 Z" fill="#d0d0d0" opacity="0.28" filter="url(#b3)"/>
<rect x="835.0" y="461.4" width="24.0" height="2.2" rx="1.1" fill="#8e8e8e" opacity="0.5" filter="url(#b2)"/>
<rect x="835.5" y="471.5" width="23.0" height="2.0" rx="1.0" fill="#a4a4a4" opacity="0.25" filter="url(#b2)"/>
<rect x="835.5" y="453.2" width="23.0" height="2.0" rx="1.0" fill="#a4a4a4" opacity="0.25" filter="url(#b2)"/>
<rect x="834.5" y="438.3" width="25.0" height="5.0" rx="2.5" fill="#8a8a8a" opacity="0.55" filter="url(#b2)"/>
<rect x="835.0" y="449.4" width="24.0" height="5.0" rx="2.5" fill="#a0a0a0" opacity="0.3" filter="url(#b2)"/>
<path d="M832.7,442.9 Q834.0,443.5 835.8,443.8 L858.2,443.8 Q860.0,443.5 861.3,442.9 L860.7,446.8 Q860.2,448.0 857.6,448.0 L836.4,448.0 Q833.8,448.0 833.3,446.8 Z" fill="#404040" opacity="1.0" filter="url(#b1)"/>
<path d="M831.7,426.6 Q833.0,428.9 835.0,429.6 L859.0,429.6 Q861.0,428.9 862.3,426.6 L861.7,435.3 Q861.1,437.8 858.4,437.8 L835.6,437.8 Q832.9,437.8 832.3,435.3 Z" fill="#161616" opacity="1.0" filter="url(#b0)"/>
<rect x="876.0" y="434.9" width="25" height="57.1" fill="#b8b8b8" opacity="0.20" filter="url(#b2)"/>
<path d="M873.5,415.2 L903.5,415.2 L901.5,434.9 L875.5,434.9 Z" fill="#d0d0d0" opacity="0.28" filter="url(#b3)"/>
<rect x="876.5" y="462.7" width="24.0" height="2.2" rx="1.1" fill="#8e8e8e" opacity="0.5" filter="url(#b2)"/>
<rect x="877.0" y="472.8" width="23.0" height="2.0" rx="1.0" fill="#a4a4a4" opacity="0.25" filter="url(#b2)"/>
<rect x="877.0" y="454.2" width="23.0" height="2.0" rx="1.0" fill="#a4a4a4" opacity="0.25" filter="url(#b2)"/>
<rect x="876.0" y="439.3" width="25.0" height="5.0" rx="2.5" fill="#8a8a8a" opacity="0.55" filter="url(#b2)"/>
<rect x="876.5" y="450.2" width="24.0" height="5.0" rx="2.5" fill="#a0a0a0" opacity="0.3" filter="url(#b2)"/>
<path d="M874.2,443.6 Q875.5,444.2 877.3,444.4 L899.7,444.4 Q901.5,444.2 902.8,443.6 L902.2,447.6 Q901.7,448.9 899.1,448.9 L877.9,448.9 Q875.3,448.9 874.8,447.6 Z" fill="#3a3a3a" opacity="1.0" filter="url(#b1)"/>
<path d="M873.2,427.8 Q874.5,430.0 876.5,430.8 L900.5,430.8 Q902.5,430.0 903.8,427.8 L903.2,436.6 Q902.6,439.0 899.9,439.0 L877.1,439.0 Q874.4,439.0 873.8,436.6 Z" fill="#161616" opacity="1.0" filter="url(#b0)"/>
<rect x="918.6" y="434.4" width="25" height="57.6" fill="#b8b8b8" opacity="0.20" filter="url(#b2)"/>
<path d="M916.1,415.2 L946.1,415.2 L944.1,434.4 L918.1,434.4 Z" fill="#d0d0d0" opacity="0.28" filter="url(#b3)"/>
<rect x="919.1" y="462.7" width="24.0" height="2.2" rx="1.1" fill="#8e8e8e" opacity="0.5" filter="url(#b2)"/>
<rect x="919.6" y="472.8" width="23.0" height="2.0" rx="1.0" fill="#a4a4a4" opacity="0.25" filter="url(#b2)"/>
<rect x="919.6" y="454.2" width="23.0" height="2.0" rx="1.0" fill="#a4a4a4" opacity="0.25" filter="url(#b2)"/>
<rect x="918.6" y="439.0" width="25.0" height="5.0" rx="2.5" fill="#8a8a8a" opacity="0.55" filter="url(#b2)"/>
<rect x="919.1" y="450.2" width="24.0" height="5.0" rx="2.5" fill="#a0a0a0" opacity="0.3" filter="url(#b2)"/>
<path d="M916.8,443.8 Q918.1,444.4 919.9,444.6 L942.3,444.6 Q944.1,444.4 945.4,443.8 L944.8,447.5 Q944.3,448.8 941.7,448.8 L920.5,448.8 Q917.9,448.8 917.4,447.5 Z" fill="#484848" opacity="1.0" filter="url(#b1)"/>
<path d="M915.8,427.4 Q917.1,429.7 919.1,430.4 L943.1,430.4 Q945.1,429.7 946.4,427.4 L945.8,436.0 Q945.2,438.3 942.5,438.3 L919.7,438.3 Q917.0,438.3 916.4,436.0 Z" fill="#161616" opacity="1.0" filter="url(#b0)"/>
<rect x="960.7" y="433.7" width="25" height="58.3" fill="#b8b8b8" opacity="0.20" filter="url(#b2)"/>
<path d="M958.2,415.2 L988.2,415.2 L986.2,433.7 L960.2,433.7 Z" fill="#d0d0d0" opacity="0.28" filter="url(#b3)"/>
<rect x="961.2" y="462.7" width="24.0" height="2.2" rx="1.1" fill="#8e8e8e" opacity="0.5" filter="url(#b2)"/>
<rect x="961.7" y="472.8" width="23.0" height="2.0" rx="1.0" fill="#a4a4a4" opacity="0.25" filter="url(#b2)"/>
<rect x="961.7" y="454.2" width="23.0" height="2.0" rx="1.0" fill="#a4a4a4" opacity="0.25" filter="url(#b2)"/>
<rect x="960.7" y="438.7" width="25.0" height="5.0" rx="2.5" fill="#8a8a8a" opacity="0.55" filter="url(#b2)"/>
<rect x="961.2" y="450.2" width="24.0" height="5.0" rx="2.5" fill="#a0a0a0" opacity="0.3" filter="url(#b2)"/>
<path d="M958.9,443.8 Q960.2,444.4 962.0,444.6 L984.4,444.6 Q986.2,444.4 987.5,443.8 L986.9,447.5 Q986.4,448.8 983.8,448.8 L962.6,448.8 Q960.0,448.8 959.5,447.5 Z" fill="#484848" opacity="1.0" filter="url(#b1)"/>
<path d="M957.9,426.8 Q959.2,429.0 961.2,429.8 L985.2,429.8 Q987.2,429.0 988.5,426.8 L987.9,435.3 Q987.3,437.6 984.6,437.6 L961.8,437.6 Q959.1,437.6 958.5,435.3 Z" fill="#161616" opacity="1.0" filter="url(#b0)"/>
<rect x="1001.5" y="435.7" width="25" height="56.3" fill="#b8b8b8" opacity="0.20" filter="url(#b2)"/>
<path d="M999.0,415.2 L1029.0,415.2 L1027.0,435.7 L1001.0,435.7 Z" fill="#d0d0d0" opacity="0.28" filter="url(#b3)"/>
<rect x="1002.0" y="464.7" width="24.0" height="2.2" rx="1.1" fill="#8e8e8e" opacity="0.5" filter="url(#b2)"/>
<rect x="1002.5" y="474.8" width="23.0" height="2.0" rx="1.0" fill="#a4a4a4" opacity="0.25" filter="url(#b2)"/>
<rect x="1002.5" y="456.1" width="23.0" height="2.0" rx="1.0" fill="#a4a4a4" opacity="0.25" filter="url(#b2)"/>
<rect x="1001.5" y="440.6" width="25.0" height="5.0" rx="2.5" fill="#8a8a8a" opacity="0.55" filter="url(#b2)"/>
<rect x="1002.0" y="452.0" width="24.0" height="5.0" rx="2.5" fill="#a0a0a0" opacity="0.3" filter="url(#b2)"/>
<path d="M999.7,445.2 Q1001.0,445.8 1002.8,446.1 L1025.2,446.1 Q1027.0,445.8 1028.3,445.2 L1027.7,449.5 Q1027.2,450.9 1024.6,450.9 L1003.4,450.9 Q1000.8,450.9 1000.3,449.5 Z" fill="#262626" opacity="1.0" filter="url(#b1)"/>
<path d="M998.7,428.3 Q1000.0,430.6 1002.0,431.3 L1026.0,431.3 Q1028.0,430.6 1029.3,428.3 L1028.7,437.4 Q1028.1,440.1 1025.4,440.1 L1002.6,440.1 Q999.9,440.1 999.3,437.4 Z" fill="#161616" opacity="1.0" filter="url(#b0)"/>
<rect x="1042.3" y="436.2" width="25" height="55.8" fill="#b8b8b8" opacity="0.20" filter="url(#b2)"/>
<path d="M1039.8,415.2 L1069.8,415.2 L1067.8,436.2 L1041.8,436.2 Z" fill="#d0d0d0" opacity="0.28" filter="url(#b3)"/>
<rect x="1042.8" y="465.2" width="24.0" height="2.2" rx="1.1" fill="#8e8e8e" opacity="0.5" filter="url(#b2)"/>
<rect x="1043.3" y="475.3" width="23.0" height="2.0" rx="1.0" fill="#a4a4a4" opacity="0.25" filter="url(#b2)"/>
<rect x="1043.3" y="456.6" width="23.0" height="2.0" rx="1.0" fill="#a4a4a4" opacity="0.25" filter="url(#b2)"/>
<rect x="1042.3" y="441.0" width="25.0" height="5.0" rx="2.5" fill="#8a8a8a" opacity="0.55" filter="url(#b2)"/>
<rect x="1042.8" y="452.3" width="24.0" height="5.0" rx="2.5" fill="#a0a0a0" opacity="0.3" filter="url(#b2)"/>
<path d="M1040.5,445.6 Q1041.8,446.2 1043.6,446.4 L1066.0,446.4 Q1067.8,446.2 1069.1,445.6 L1068.5,449.7 Q1068.0,451.2 1065.4,451.2 L1044.2,451.2 Q1041.6,451.2 1041.1,449.7 Z" fill="#2a2a2a" opacity="1.0" filter="url(#b1)"/>
<path d="M1039.5,428.9 Q1040.8,431.2 1042.8,431.9 L1066.8,431.9 Q1068.8,431.2 1070.1,428.9 L1069.5,437.9 Q1068.9,440.4 1066.2,440.4 L1043.4,440.4 Q1040.7,440.4 1040.1,437.9 Z" fill="#161616" opacity="1.0" filter="url(#b0)"/>
<rect x="1081.8" y="440.0" width="25" height="52.0" fill="#b8b8b8" opacity="0.20" filter="url(#b2)"/>
<path d="M1079.3,415.2 L1109.3,415.2 L1107.3,440.0 L1081.3,440.0 Z" fill="#d0d0d0" opacity="0.28" filter="url(#b3)"/>
<rect x="1082.3" y="467.8" width="24.0" height="2.2" rx="1.1" fill="#8e8e8e" opacity="0.5" filter="url(#b2)"/>
<rect x="1082.8" y="477.9" width="23.0" height="2.0" rx="1.0" fill="#a4a4a4" opacity="0.25" filter="url(#b2)"/>
<rect x="1082.8" y="459.8" width="23.0" height="2.0" rx="1.0" fill="#a4a4a4" opacity="0.25" filter="url(#b2)"/>
<rect x="1081.8" y="444.8" width="25.0" height="5.0" rx="2.5" fill="#8a8a8a" opacity="0.55" filter="url(#b2)"/>
<rect x="1082.3" y="456.1" width="24.0" height="5.0" rx="2.5" fill="#a0a0a0" opacity="0.3" filter="url(#b2)"/>
<path d="M1080.0,449.0 Q1081.3,449.6 1083.1,449.9 L1105.5,449.9 Q1107.3,449.6 1108.6,449.0 L1108.0,453.7 Q1107.5,455.4 1104.9,455.4 L1083.7,455.4 Q1081.1,455.4 1080.6,453.7 Z" fill="#1a1a1a" opacity="1.0" filter="url(#b1)"/>
<path d="M1079.0,432.2 Q1080.3,434.5 1082.3,435.2 L1106.3,435.2 Q1108.2,434.5 1109.6,432.2 L1109.0,441.9 Q1108.4,444.8 1105.7,444.8 L1082.9,444.8 Q1080.2,444.8 1079.6,441.9 Z" fill="#161616" opacity="1.0" filter="url(#b0)"/>
<rect x="137.0" y="446.5" width="22.0" height="5.0" rx="2.5" fill="#d4d6dc" opacity="0.55" filter="url(#b3)"/>
<rect x="179.0" y="446.5" width="22.0" height="5.0" rx="2.5" fill="#d4d6dc" opacity="0.55" filter="url(#b3)"/>
<rect x="221.0" y="446.5" width="22.0" height="5.0" rx="2.5" fill="#d4d6dc" opacity="0.55" filter="url(#b3)"/>
<rect x="263.0" y="446.5" width="22.0" height="5.0" rx="2.5" fill="#d4d6dc" opacity="0.55" filter="url(#b3)"/>
</g>
<rect x="128.8" y="407.2" width="989.0" height="80.8" fill="none" stroke="#0a0a0a" stroke-width="2"/>
<g clip-path="url(#cb5)">
<rect x="128.8" y="498.4" width="988.6" height="77.6" fill="url(#bg5)"/>
<rect x="128.8" y="498.4" width="988.6" height="77.6" filter="url(#noise)" opacity="0.3"/>
<path d="M134.9,544.4 Q136.1,541.3 140.8,541.3 L168.1,541.3 Q172.7,541.3 173.9,544.4 Q172.0,547.5 164.2,548.0 Q154.4,549.5 144.7,548.0 Q136.8,547.5 134.9,544.4 Z" fill="#0b0b0b" opacity="1.0" filter="url(#b1)" transform="rotate(-1.5 154.4 544.7)"/>
<path d="M178.8,543.4 Q180.0,540.3 184.7,540.3 L212.0,540.3 Q216.6,540.3 217.8,543.4 Q215.9,546.5 208.1,547.0 Q198.3,548.5 188.6,547.0 Q180.8,546.5 178.8,543.4 Z" fill="#0b0b0b" opacity="1.0" filter="url(#b1)" transform="rotate(-2 198.3 543.7)"/>
<path d="M220.4,541.4 Q221.6,538.3 226.2,538.3 L253.5,538.3 Q258.2,538.3 259.4,541.4 Q257.4,544.5 249.6,545.0 Q239.9,546.5 230.2,545.0 Q222.3,544.5 220.4,541.4 Z" fill="#0b0b0b" opacity="1.0" filter="url(#b1)" transform="rotate(-3.5 239.9 541.7)"/>
<path d="M263.7,538.1 Q264.9,535.0 269.6,535.0 L296.8,535.0 Q301.5,535.0 302.7,538.1 Q300.8,541.2 292.9,541.8 Q283.2,543.2 273.4,541.8 Q265.6,541.2 263.7,538.1 Z" fill="#0b0b0b" opacity="1.0" filter="url(#b1)" transform="rotate(-4 283.2 538.4)"/>
<path d="M305.3,536.3 Q306.5,533.2 311.2,533.2 L338.4,533.2 Q343.1,533.2 344.3,536.3 Q342.4,539.4 334.6,540.0 Q324.8,541.4 315.1,540.0 Q307.2,539.4 305.3,536.3 Z" fill="#0b0b0b" opacity="1.0" filter="url(#b1)" transform="rotate(-4 324.8 536.6)"/>
<path d="M346.1,535.0 Q347.3,531.9 352.0,531.9 L379.2,531.9 Q383.9,531.9 385.1,535.0 Q383.2,538.1 375.4,538.6 Q365.6,540.1 355.9,538.6 Q348.1,538.1 346.1,535.0 Z" fill="#0b0b0b" opacity="1.0" filter="url(#b1)" transform="rotate(-4 365.6 535.3)"/>
<path d="M387.4,533.2 Q388.6,530.1 393.2,530.1 L420.5,530.1 Q425.2,530.1 426.4,533.2 Q424.4,536.3 416.6,536.9 Q406.9,538.3 397.1,536.9 Q389.3,536.3 387.4,533.2 Z" fill="#0b0b0b" opacity="1.0" filter="url(#b1)" transform="rotate(-3.5 406.9 533.5)"/>
<path d="M428.2,531.9 Q429.4,528.8 434.1,528.8 L461.3,528.8 Q466.0,528.8 467.2,531.9 Q465.2,535.0 457.4,535.5 Q447.7,537.0 437.9,535.5 Q430.1,535.0 428.2,531.9 Z" fill="#0b0b0b" opacity="1.0" filter="url(#b1)" transform="rotate(-3.5 447.7 532.2)"/>
<path d="M468.5,529.9 Q469.7,526.8 474.4,526.8 L501.6,526.8 Q506.3,526.8 507.5,529.9 Q505.6,533.0 497.8,533.5 Q488.0,535.0 478.2,533.5 Q470.4,533.0 468.5,529.9 Z" fill="#0b0b0b" opacity="1.0" filter="url(#b1)" transform="rotate(-2.5 488.0 530.2)"/>
<path d="M508.5,529.4 Q509.7,526.3 514.4,526.3 L541.6,526.3 Q546.3,526.3 547.5,529.4 Q545.5,532.5 537.8,533.0 Q528.0,534.5 518.2,533.0 Q510.4,532.5 508.5,529.4 Z" fill="#0b0b0b" opacity="1.0" filter="url(#b1)" transform="rotate(-2 528.0 529.7)"/>
<path d="M546.8,528.6 Q548.0,525.5 552.6,525.5 L579.9,525.5 Q584.6,525.5 585.8,528.6 Q583.8,531.7 576.0,532.2 Q566.3,533.7 556.5,532.2 Q548.8,531.7 546.8,528.6 Z" fill="#0b0b0b" opacity="1.0" filter="url(#b1)" transform="rotate(-2.5 566.3 528.9)"/>
<path d="M585.0,527.9 Q586.3,524.8 591.6,524.8 L622.4,524.8 Q627.7,524.8 629.0,527.9 Q626.8,531.0 618.0,531.5 Q607.0,533.0 596.0,531.5 Q587.2,531.0 585.0,527.9 Z" fill="#0b0b0b" opacity="1.0" filter="url(#b1)" transform="rotate(-1 607.0 528.2)"/>
<path d="M615.9,528.6 Q617.2,525.5 622.5,525.5 L653.3,525.5 Q658.6,525.5 659.9,528.6 Q657.7,531.7 648.9,532.2 Q637.9,533.7 626.9,532.2 Q618.1,531.7 615.9,528.6 Z" fill="#0b0b0b" opacity="1.0" filter="url(#b1)" transform="rotate(0.5 637.9 528.9)"/>
<path d="M657.9,529.9 Q659.1,526.8 663.8,526.8 L691.0,526.8 Q695.7,526.8 696.9,529.9 Q694.9,533.0 687.1,533.5 Q677.4,535.0 667.6,533.5 Q659.9,533.0 657.9,529.9 Z" fill="#0b0b0b" opacity="1.0" filter="url(#b1)" transform="rotate(1 677.4 530.2)"/>
<path d="M700.0,529.9 Q701.2,526.8 705.9,526.8 L733.1,526.8 Q737.8,526.8 739.0,529.9 Q737.0,533.0 729.2,533.5 Q719.5,535.0 709.8,533.5 Q702.0,533.0 700.0,529.9 Z" fill="#0b0b0b" opacity="1.0" filter="url(#b1)" transform="rotate(1.5 719.5 530.2)"/>
<path d="M740.2,531.7 Q741.4,528.6 746.1,528.6 L773.4,528.6 Q778.0,528.6 779.2,531.7 Q777.2,534.8 769.5,535.4 Q759.7,536.8 750.0,535.4 Q742.2,534.8 740.2,531.7 Z" fill="#0b0b0b" opacity="1.0" filter="url(#b1)" transform="rotate(3 759.7 532.0)"/>
<path d="M779.0,533.0 Q780.2,529.9 784.9,529.9 L812.1,529.9 Q816.8,529.9 818.0,533.0 Q816.0,536.1 808.2,536.6 Q798.5,538.1 788.8,536.6 Q781.0,536.1 779.0,533.0 Z" fill="#0b0b0b" opacity="1.0" filter="url(#b1)" transform="rotate(3 798.5 533.3)"/>
<path d="M820.6,535.0 Q821.8,531.9 826.5,531.9 L853.8,531.9 Q858.4,531.9 859.6,535.0 Q857.6,538.1 849.9,538.6 Q840.1,540.1 830.4,538.6 Q822.6,538.1 820.6,535.0 Z" fill="#0b0b0b" opacity="1.0" filter="url(#b1)" transform="rotate(3.5 840.1 535.3)"/>
<path d="M861.1,536.8 Q862.3,533.8 867.0,533.8 L894.2,533.8 Q898.9,533.8 900.1,536.8 Q898.1,539.9 890.4,540.5 Q880.6,541.9 870.9,540.5 Q863.1,539.9 861.1,536.8 Z" fill="#0b0b0b" opacity="1.0" filter="url(#b1)" transform="rotate(3.5 880.6 537.1)"/>
<path d="M902.2,538.8 Q903.4,535.8 908.1,535.8 L935.4,535.8 Q940.0,535.8 941.2,538.8 Q939.2,541.9 931.5,542.5 Q921.7,543.9 912.0,542.5 Q904.2,541.9 902.2,538.8 Z" fill="#0b0b0b" opacity="1.0" filter="url(#b1)" transform="rotate(3.5 921.7 539.1)"/>
<path d="M944.0,540.9 Q945.2,537.8 949.9,537.8 L977.1,537.8 Q981.8,537.8 983.0,540.9 Q981.0,544.0 973.2,544.5 Q963.5,546.0 953.8,544.5 Q946.0,544.0 944.0,540.9 Z" fill="#0b0b0b" opacity="1.0" filter="url(#b1)" transform="rotate(3.5 963.5 541.2)"/>
<path d="M985.5,543.9 Q986.7,540.8 991.4,540.8 L1018.6,540.8 Q1023.3,540.8 1024.5,543.9 Q1022.5,547.0 1014.8,547.5 Q1005.0,549.0 995.2,547.5 Q987.5,547.0 985.5,543.9 Z" fill="#0b0b0b" opacity="1.0" filter="url(#b1)" transform="rotate(3 1005.0 544.2)"/>
<path d="M1028.9,545.2 Q1030.1,542.1 1034.8,542.1 L1062.1,542.1 Q1066.7,542.1 1067.9,545.2 Q1066.0,548.3 1058.2,548.9 Q1048.4,550.3 1038.7,548.9 Q1030.9,548.3 1028.9,545.2 Z" fill="#0b0b0b" opacity="1.0" filter="url(#b1)" transform="rotate(2 1048.4 545.5)"/>
<path d="M1073.5,546.4 Q1074.7,542.7 1079.3,542.7 L1106.7,542.7 Q1111.3,542.7 1112.5,546.4 Q1110.5,550.2 1102.8,550.9 Q1093.0,552.7 1083.2,550.9 Q1075.5,550.2 1073.5,546.4 Z" fill="#0b0b0b" opacity="1.0" filter="url(#b1)" transform="rotate(0.5 1093.0 546.8)"/>
<rect x="145.0" y="502.9" width="20.0" height="2.0" rx="1.0" fill="#bdbdbd" opacity="0.35" filter="url(#b2)"/>
<rect x="189.0" y="502.9" width="20.0" height="2.0" rx="1.0" fill="#bdbdbd" opacity="0.35" filter="url(#b2)"/>
<rect x="230.0" y="502.9" width="20.0" height="2.0" rx="1.0" fill="#bdbdbd" opacity="0.35" filter="url(#b2)"/>
<rect x="995.0" y="502.9" width="20.0" height="2.0" rx="1.0" fill="#bdbdbd" opacity="0.35" filter="url(#b2)"/>
<rect x="1038.0" y="502.9" width="20.0" height="2.0" rx="1.0" fill="#bdbdbd" opacity="0.35" filter="url(#b2)"/>
<rect x="1083.0" y="502.9" width="20.0" height="2.0" rx="1.0" fill="#bdbdbd" opacity="0.35" filter="url(#b2)"/>
<rect x="357.0" y="569.3" width="18.0" height="2.4" rx="1.2" fill="#c4c4c4" opacity="0.45" filter="url(#b2)"/>
<rect x="398.0" y="569.3" width="18.0" height="2.4" rx="1.2" fill="#c4c4c4" opacity="0.45" filter="url(#b2)"/>
<rect x="439.0" y="569.3" width="18.0" height="2.4" rx="1.2" fill="#c4c4c4" opacity="0.45" filter="url(#b2)"/>
<rect x="519.0" y="569.3" width="18.0" height="2.4" rx="1.2" fill="#c4c4c4" opacity="0.45" filter="url(#b2)"/>
<rect x="557.0" y="569.3" width="18.0" height="2.4" rx="1.2" fill="#c4c4c4" opacity="0.45" filter="url(#b2)"/>
<rect x="598.0" y="569.3" width="18.0" height="2.4" rx="1.2" fill="#c4c4c4" opacity="0.45" filter="url(#b2)"/>
<rect x="631.0" y="569.3" width="18.0" height="2.4" rx="1.2" fill="#c4c4c4" opacity="0.45" filter="url(#b2)"/>
<rect x="668.0" y="569.3" width="18.0" height="2.4" rx="1.2" fill="#c4c4c4" opacity="0.45" filter="url(#b2)"/>
<rect x="710.0" y="569.3" width="18.0" height="2.4" rx="1.2" fill="#c4c4c4" opacity="0.45" filter="url(#b2)"/>
<rect x="751.0" y="569.3" width="18.0" height="2.4" rx="1.2" fill="#c4c4c4" opacity="0.45" filter="url(#b2)"/>
<rect x="789.0" y="569.3" width="18.0" height="2.4" rx="1.2" fill="#c4c4c4" opacity="0.45" filter="url(#b2)"/>
<rect x="831.0" y="569.3" width="18.0" height="2.4" rx="1.2" fill="#c4c4c4" opacity="0.45" filter="url(#b2)"/>
<rect x="871.0" y="569.3" width="18.0" height="2.4" rx="1.2" fill="#c4c4c4" opacity="0.45" filter="url(#b2)"/>
</g>
<rect x="128.8" y="498.4" width="989.0" height="77.6" fill="none" stroke="#0a0a0a" stroke-width="2"/>
<text x="117.2" y="191.8" font-size="21.5" text-anchor="end" font-weight="normal" >25 kDa</text>
<line x1="120.2" y1="183.3" x2="128" y2="183.3" stroke="#111" stroke-width="1.5"/>
<text x="117.2" y="269.9" font-size="21.5" text-anchor="end" font-weight="normal" >25 kDa</text>
<line x1="120.2" y1="263.5" x2="128" y2="263.5" stroke="#111" stroke-width="1.5"/>
<text x="117.2" y="369.7" font-size="21.5" text-anchor="end" font-weight="normal" >250 kDa</text>
<line x1="120.2" y1="364.1" x2="128" y2="364.1" stroke="#111" stroke-width="1.5"/>
<text x="117.2" y="460.5" font-size="21.5" text-anchor="end" font-weight="normal" >250 kDa</text>
<line x1="120.2" y1="453.2" x2="128" y2="453.2" stroke="#111" stroke-width="1.5"/>
<text x="117.2" y="545.8" font-size="21.5" text-anchor="end" font-weight="normal" >37 kDa</text>
<line x1="120.2" y1="539.8" x2="128" y2="539.8" stroke="#111" stroke-width="1.5"/>
<line x1="120.5" y1="530" x2="127.5" y2="530" stroke="#b5b5b5" stroke-width="0.9"/>
<text x="1138.6" y="184.0" font-size="27" text-anchor="start" font-weight="normal" >pT73-RAB10</text>
<text x="1138.6" y="271.8" font-size="27" text-anchor="start" font-weight="normal" >RAB10</text>
<text x="1138.6" y="355.6" font-size="27" text-anchor="start" font-weight="normal" >pS935-LRRK2</text>
<text x="1138.6" y="456.8" font-size="27" text-anchor="start" font-weight="normal" >LRRK2</text>
<text x="1138.6" y="549.0" font-size="27" text-anchor="start" font-weight="normal" >GAPDH</text>
<line x1="1459.8" y1="362.4" x2="1991.0" y2="362.4" stroke="#3e57b0" stroke-width="2.1" stroke-linecap="round" stroke-dasharray="0.2 3.8"/>
<line x1="1459.8" y1="396.6" x2="1991.0" y2="396.6" stroke="#111" stroke-width="2.1" stroke-linecap="round" stroke-dasharray="0.2 3.8"/>
<rect x="1471.0" y="460.2" width="20.5" height="4.7" fill="#d9d9d9" stroke="#0a0a0a" stroke-width="1.9"/>
<rect x="1504.5" y="461.1" width="21.5" height="3.9" fill="#d9d9d9" stroke="#0a0a0a" stroke-width="1.9"/>
<rect x="1561.2" y="460.6" width="20.7" height="4.4" fill="#d9d9d9" stroke="#0a0a0a" stroke-width="1.9"/>
<rect x="1594.8" y="461.1" width="21.5" height="3.9" fill="#d9d9d9" stroke="#0a0a0a" stroke-width="1.9"/>
<rect x="1651.8" y="398.1" width="21.0" height="66.9" fill="#d9d9d9" stroke="#0a0a0a" stroke-width="1.9"/>
<rect x="1685.5" y="454.6" width="21.5" height="10.4" fill="#d9d9d9" stroke="#0a0a0a" stroke-width="1.9"/>
<rect x="1742.8" y="324.1" width="20.6" height="140.9" fill="#efd67c" stroke="#0a0a0a" stroke-width="1.9"/>
<rect x="1776.2" y="462.2" width="21.3" height="2.7" fill="#efd67c" stroke="#0a0a0a" stroke-width="1.9"/>
<rect x="1833.4" y="235.9" width="20.2" height="229.1" fill="#d9d9d9" stroke="#0a0a0a" stroke-width="1.9"/>
<rect x="1866.9" y="461.6" width="21.3" height="3.4" fill="#d9d9d9" stroke="#0a0a0a" stroke-width="1.9"/>
<rect x="1923.5" y="366.4" width="20.6" height="98.6" fill="#d9d9d9" stroke="#0a0a0a" stroke-width="1.9"/>
<rect x="1957.0" y="458.8" width="21.3" height="6.2" fill="#d9d9d9" stroke="#0a0a0a" stroke-width="1.9"/>
<line x1="1458.8" y1="190.4" x2="1458.8" y2="466.0" stroke="#0a0a0a" stroke-width="2"/>
<line x1="1443.6" y1="465.0" x2="1991.0" y2="465.0" stroke="#0a0a0a" stroke-width="2"/>
<line x1="1443.6" y1="396.6" x2="1458.8" y2="396.6" stroke="#0a0a0a" stroke-width="2"/>
<line x1="1443.6" y1="328.2" x2="1458.8" y2="328.2" stroke="#0a0a0a" stroke-width="2"/>
<line x1="1443.6" y1="259.8" x2="1458.8" y2="259.8" stroke="#0a0a0a" stroke-width="2"/>
<line x1="1443.6" y1="191.4" x2="1458.8" y2="191.4" stroke="#0a0a0a" stroke-width="2"/>
<line x1="1450.8" y1="430.8" x2="1458.8" y2="430.8" stroke="#0a0a0a" stroke-width="2"/>
<line x1="1450.8" y1="362.4" x2="1458.8" y2="362.4" stroke="#0a0a0a" stroke-width="2"/>
<line x1="1450.8" y1="294.0" x2="1458.8" y2="294.0" stroke="#0a0a0a" stroke-width="2"/>
<line x1="1450.8" y1="225.6" x2="1458.8" y2="225.6" stroke="#0a0a0a" stroke-width="2"/>
<line x1="1497.6" y1="465.0" x2="1497.6" y2="479.5" stroke="#0a0a0a" stroke-width="2"/>
<line x1="1587.9" y1="465.0" x2="1587.9" y2="479.5" stroke="#0a0a0a" stroke-width="2"/>
<line x1="1678.1" y1="465.0" x2="1678.1" y2="479.5" stroke="#0a0a0a" stroke-width="2"/>
<line x1="1769.0" y1="465.0" x2="1769.0" y2="479.5" stroke="#0a0a0a" stroke-width="2"/>
<line x1="1859.7" y1="465.0" x2="1859.7" y2="479.5" stroke="#0a0a0a" stroke-width="2"/>
<line x1="1950.3" y1="465.0" x2="1950.3" y2="479.5" stroke="#0a0a0a" stroke-width="2"/>
<line x1="1662.2" y1="390.4" x2="1662.2" y2="397.8" stroke="#0a0a0a" stroke-width="2.6"/>
<line x1="1655.8" y1="390.4" x2="1668.6" y2="390.4" stroke="#0a0a0a" stroke-width="2"/>
<line x1="1752.9" y1="300.9" x2="1752.9" y2="348.5" stroke="#0a0a0a" stroke-width="2.6"/>
<line x1="1843.4" y1="226.9" x2="1843.4" y2="244.2" stroke="#0a0a0a" stroke-width="2.6"/>
<line x1="1837.0" y1="226.9" x2="1849.8" y2="226.9" stroke="#0a0a0a" stroke-width="2"/>
<line x1="1837.0" y1="244.2" x2="1849.8" y2="244.2" stroke="#0a0a0a" stroke-width="2"/>
<circle cx="1474.4" cy="459.1" r="6.1" fill="#4963b6" stroke="#0a0a0a" stroke-width="1.15"/>
<circle cx="1486.5" cy="458.2" r="6.1" fill="#4963b6" stroke="#0a0a0a" stroke-width="1.15"/>
<circle cx="1480.6" cy="457.0" r="6.1" fill="#4963b6" stroke="#0a0a0a" stroke-width="1.15"/>
<circle cx="1514.9" cy="459.7" r="6.1" fill="#3f3f3f" stroke="#0a0a0a" stroke-width="1.15"/>
<circle cx="1565.5" cy="459.5" r="6.1" fill="#4963b6" stroke="#0a0a0a" stroke-width="1.15"/>
<circle cx="1577.2" cy="459.0" r="6.1" fill="#4963b6" stroke="#0a0a0a" stroke-width="1.15"/>
<circle cx="1570.8" cy="459.5" r="6.1" fill="#4963b6" stroke="#0a0a0a" stroke-width="1.15"/>
<circle cx="1605.4" cy="459.5" r="6.1" fill="#3f3f3f" stroke="#0a0a0a" stroke-width="1.15"/>
<circle cx="1656.2" cy="389.1" r="6.1" fill="#4963b6" stroke="#0a0a0a" stroke-width="1.15"/>
<circle cx="1656.2" cy="401.5" r="6.1" fill="#4963b6" stroke="#0a0a0a" stroke-width="1.15"/>
<circle cx="1667.5" cy="399.8" r="6.1" fill="#4963b6" stroke="#0a0a0a" stroke-width="1.15"/>
<circle cx="1695.6" cy="453.3" r="6.1" fill="#3f3f3f" stroke="#0a0a0a" stroke-width="1.15"/>
<circle cx="1752.9" cy="300.9" r="6.1" fill="#4963b6" stroke="#0a0a0a" stroke-width="1.15"/>
<circle cx="1752.9" cy="321.0" r="6.1" fill="#4963b6" stroke="#0a0a0a" stroke-width="1.15"/>
<circle cx="1752.9" cy="348.5" r="6.1" fill="#4963b6" stroke="#0a0a0a" stroke-width="1.15"/>
<circle cx="1787.1" cy="461.0" r="6.1" fill="#3f3f3f" stroke="#0a0a0a" stroke-width="1.15"/>
<circle cx="1837.5" cy="226.5" r="6.1" fill="#4963b6" stroke="#0a0a0a" stroke-width="1.15"/>
<circle cx="1848.8" cy="235.3" r="6.1" fill="#4963b6" stroke="#0a0a0a" stroke-width="1.15"/>
<circle cx="1837.5" cy="243.8" r="6.1" fill="#4963b6" stroke="#0a0a0a" stroke-width="1.15"/>
<circle cx="1877.3" cy="461.0" r="6.1" fill="#3f3f3f" stroke="#0a0a0a" stroke-width="1.15"/>
<circle cx="1928.1" cy="365.8" r="6.1" fill="#4963b6" stroke="#0a0a0a" stroke-width="1.15"/>
<circle cx="1933.7" cy="362.6" r="6.1" fill="#4963b6" stroke="#0a0a0a" stroke-width="1.15"/>
<circle cx="1939.4" cy="364.7" r="6.1" fill="#4963b6" stroke="#0a0a0a" stroke-width="1.15"/>
<circle cx="1967.9" cy="457.4" r="6.1" fill="#3f3f3f" stroke="#0a0a0a" stroke-width="1.15"/>
<text x="1435.8" y="471.8" font-size="19" text-anchor="end" font-weight="normal" >0</text>
<text x="1435.8" y="403.4" font-size="19" text-anchor="end" font-weight="normal" >1</text>
<text x="1435.8" y="335.0" font-size="19" text-anchor="end" font-weight="normal" >2</text>
<text x="1435.8" y="266.6" font-size="19" text-anchor="end" font-weight="normal" >3</text>
<text x="1435.8" y="198.2" font-size="19" text-anchor="end" font-weight="normal" >4</text>
<text x="1497.6" y="530.0" font-size="19" text-anchor="middle" font-weight="normal" >FLAG</text>
<text x="1587.9" y="530.0" font-size="19" text-anchor="middle" font-weight="normal" >D2017A</text>
<text x="1678.1" y="530.0" font-size="19" text-anchor="middle" font-weight="normal" >WT</text>
<text x="1769.0" y="530.0" font-size="19" text-anchor="middle" font-weight="normal" >R1067Q</text>
<text x="1859.7" y="530.0" font-size="19" text-anchor="middle" font-weight="normal" >R1441G</text>
<text x="1950.3" y="530.0" font-size="19" text-anchor="middle" font-weight="normal" >G2019S</text>
<text x="1485.9" y="505.8" font-size="19" text-anchor="middle" font-weight="normal" >-</text>
<text x="1516.8" y="504.2" font-size="19" text-anchor="middle" font-weight="normal" >+</text>
<text x="1579.4" y="505.8" font-size="19" text-anchor="middle" font-weight="normal" >-</text>
<text x="1609.9" y="504.2" font-size="19" text-anchor="middle" font-weight="normal" >+</text>
<text x="1665.3" y="505.8" font-size="19" text-anchor="middle" font-weight="normal" >-</text>
<text x="1696.3" y="504.2" font-size="19" text-anchor="middle" font-weight="normal" >+</text>
<text x="1759.2" y="505.8" font-size="19" text-anchor="middle" font-weight="normal" >-</text>
<text x="1789.5" y="504.2" font-size="19" text-anchor="middle" font-weight="normal" >+</text>
<text x="1850.9" y="505.8" font-size="19" text-anchor="middle" font-weight="normal" >-</text>
<text x="1881.2" y="504.2" font-size="19" text-anchor="middle" font-weight="normal" >+</text>
<text x="1938.7" y="505.8" font-size="19" text-anchor="middle" font-weight="normal" >-</text>
<text x="1969.0" y="504.2" font-size="19" text-anchor="middle" font-weight="normal" >+</text>
<text transform="translate(1407.8 339.2) rotate(-90)" font-size="19.2" text-anchor="middle" textLength="272.5" lengthAdjust="spacing">pRab10/total Rab10 relative to WT</text>
<text x="1725.8" y="147.0" font-size="26" text-anchor="middle" font-weight="bold" style="stroke-width:0.5px">LRRK2 dependent pThr73-RAB10</text>
<line x1="133.4" y1="815.0" x2="664.8" y2="815.0" stroke="#111" stroke-width="2.1" stroke-linecap="round" stroke-dasharray="0.2 3.8"/>
<rect x="235.0" y="875.6" width="20.7" height="121.4" fill="#d9d9d9" stroke="#0a0a0a" stroke-width="1.9"/>
<rect x="269.1" y="875.0" width="20.7" height="122.0" fill="#d9d9d9" stroke="#0a0a0a" stroke-width="1.9"/>
<rect x="325.8" y="816.9" width="20.4" height="180.2" fill="#d9d9d9" stroke="#0a0a0a" stroke-width="1.9"/>
<rect x="359.4" y="978.5" width="21.0" height="18.6" fill="#d9d9d9" stroke="#0a0a0a" stroke-width="1.9"/>
<rect x="416.3" y="847.5" width="20.7" height="149.6" fill="#efd67c" stroke="#0a0a0a" stroke-width="1.9"/>
<rect x="450.1" y="985.4" width="21.2" height="11.7" fill="#efd67c" stroke="#0a0a0a" stroke-width="1.9"/>
<rect x="506.8" y="975.2" width="20.7" height="21.8" fill="#d9d9d9" stroke="#0a0a0a" stroke-width="1.9"/>
<rect x="540.9" y="989.5" width="20.9" height="7.5" fill="#d9d9d9" stroke="#0a0a0a" stroke-width="1.9"/>
<rect x="597.5" y="831.4" width="20.4" height="165.7" fill="#d9d9d9" stroke="#0a0a0a" stroke-width="1.9"/>
<rect x="631.2" y="979.2" width="21.2" height="17.8" fill="#d9d9d9" stroke="#0a0a0a" stroke-width="1.9"/>
<line x1="132.4" y1="723.0" x2="132.4" y2="998.0" stroke="#0a0a0a" stroke-width="2"/>
<line x1="117.2" y1="997.0" x2="664.8" y2="997.0" stroke="#0a0a0a" stroke-width="2"/>
<line x1="117.2" y1="906.0" x2="132.4" y2="906.0" stroke="#0a0a0a" stroke-width="2"/>
<line x1="117.2" y1="815.0" x2="132.4" y2="815.0" stroke="#0a0a0a" stroke-width="2"/>
<line x1="117.2" y1="724.0" x2="132.4" y2="724.0" stroke="#0a0a0a" stroke-width="2"/>
<line x1="124.4" y1="951.5" x2="132.4" y2="951.5" stroke="#0a0a0a" stroke-width="2"/>
<line x1="124.4" y1="860.5" x2="132.4" y2="860.5" stroke="#0a0a0a" stroke-width="2"/>
<line x1="124.4" y1="769.5" x2="132.4" y2="769.5" stroke="#0a0a0a" stroke-width="2"/>
<line x1="171.3" y1="997.0" x2="171.3" y2="1011.8" stroke="#0a0a0a" stroke-width="2"/>
<line x1="261.7" y1="997.0" x2="261.7" y2="1011.8" stroke="#0a0a0a" stroke-width="2"/>
<line x1="352.1" y1="997.0" x2="352.1" y2="1011.8" stroke="#0a0a0a" stroke-width="2"/>
<line x1="442.8" y1="997.0" x2="442.8" y2="1011.8" stroke="#0a0a0a" stroke-width="2"/>
<line x1="533.7" y1="997.0" x2="533.7" y2="1011.8" stroke="#0a0a0a" stroke-width="2"/>
<line x1="624.1" y1="997.0" x2="624.1" y2="1011.8" stroke="#0a0a0a" stroke-width="2"/>
<line x1="426.7" y1="838.6" x2="426.7" y2="855.2" stroke="#0a0a0a" stroke-width="2.6"/>
<line x1="420.3" y1="838.6" x2="433.1" y2="838.6" stroke="#0a0a0a" stroke-width="2"/>
<line x1="420.3" y1="855.2" x2="433.1" y2="855.2" stroke="#0a0a0a" stroke-width="2"/>
<line x1="607.6" y1="820.6" x2="607.6" y2="831.1" stroke="#0a0a0a" stroke-width="2.6"/>
<circle cx="149.2" cy="997.0" r="6.1" fill="#4963b6" stroke="#0a0a0a" stroke-width="1.15"/>
<circle cx="160.3" cy="997.0" r="6.1" fill="#4963b6" stroke="#0a0a0a" stroke-width="1.15"/>
<circle cx="154.7" cy="997.0" r="6.1" fill="#4963b6" stroke="#0a0a0a" stroke-width="1.15"/>
<circle cx="188.5" cy="997.0" r="6.1" fill="#3f3f3f" stroke="#0a0a0a" stroke-width="1.15"/>
<circle cx="239.6" cy="874.0" r="6.1" fill="#4963b6" stroke="#0a0a0a" stroke-width="1.15"/>
<circle cx="251.2" cy="874.0" r="6.1" fill="#4963b6" stroke="#0a0a0a" stroke-width="1.15"/>
<circle cx="245.7" cy="872.0" r="6.1" fill="#4963b6" stroke="#0a0a0a" stroke-width="1.15"/>
<circle cx="279.2" cy="873.4" r="6.1" fill="#3f3f3f" stroke="#0a0a0a" stroke-width="1.15"/>
<circle cx="330.0" cy="816.8" r="6.1" fill="#4963b6" stroke="#0a0a0a" stroke-width="1.15"/>
<circle cx="341.4" cy="815.4" r="6.1" fill="#4963b6" stroke="#0a0a0a" stroke-width="1.15"/>
<circle cx="335.6" cy="812.0" r="6.1" fill="#4963b6" stroke="#0a0a0a" stroke-width="1.15"/>
<circle cx="369.6" cy="977.4" r="6.1" fill="#3f3f3f" stroke="#0a0a0a" stroke-width="1.15"/>
<circle cx="420.6" cy="838.6" r="6.1" fill="#4963b6" stroke="#0a0a0a" stroke-width="1.15"/>
<circle cx="432.0" cy="846.4" r="6.1" fill="#4963b6" stroke="#0a0a0a" stroke-width="1.15"/>
<circle cx="420.6" cy="855.5" r="6.1" fill="#4963b6" stroke="#0a0a0a" stroke-width="1.15"/>
<circle cx="460.5" cy="983.8" r="6.1" fill="#3f3f3f" stroke="#0a0a0a" stroke-width="1.15"/>
<circle cx="510.8" cy="975.7" r="6.1" fill="#4963b6" stroke="#0a0a0a" stroke-width="1.15"/>
<circle cx="522.9" cy="971.6" r="6.1" fill="#4963b6" stroke="#0a0a0a" stroke-width="1.15"/>
<circle cx="516.9" cy="969.7" r="6.1" fill="#4963b6" stroke="#0a0a0a" stroke-width="1.15"/>
<circle cx="551.1" cy="987.9" r="6.1" fill="#3f3f3f" stroke="#0a0a0a" stroke-width="1.15"/>
<circle cx="607.3" cy="820.6" r="6.1" fill="#4963b6" stroke="#0a0a0a" stroke-width="1.15"/>
<circle cx="601.7" cy="835.0" r="6.1" fill="#4963b6" stroke="#0a0a0a" stroke-width="1.15"/>
<circle cx="613.1" cy="835.0" r="6.1" fill="#4963b6" stroke="#0a0a0a" stroke-width="1.15"/>
<circle cx="641.3" cy="978.2" r="6.1" fill="#050505" stroke="#0a0a0a" stroke-width="1.15"/>
<text x="111.4" y="1003.8" font-size="19" text-anchor="end" font-weight="normal" >0.0</text>
<text x="111.4" y="912.8" font-size="19" text-anchor="end" font-weight="normal" >0.5</text>
<text x="111.4" y="821.8" font-size="19" text-anchor="end" font-weight="normal" >1.0</text>
<text x="111.4" y="730.8" font-size="19" text-anchor="end" font-weight="normal" >1.5</text>
<text x="171.3" y="1062.0" font-size="19" text-anchor="middle" font-weight="normal" >FLAG</text>
<text x="261.7" y="1062.0" font-size="19" text-anchor="middle" font-weight="normal" >D2017A</text>
<text x="352.1" y="1062.0" font-size="19" text-anchor="middle" font-weight="normal" >WT</text>
<text x="442.8" y="1062.0" font-size="19" text-anchor="middle" font-weight="normal" >R1067Q</text>
<text x="533.7" y="1062.0" font-size="19" text-anchor="middle" font-weight="normal" >R1441G</text>
<text x="624.1" y="1062.0" font-size="19" text-anchor="middle" font-weight="normal" >G2019S</text>
<text x="158.6" y="1042.6" font-size="19" text-anchor="middle" font-weight="normal" >-</text>
<text x="189.0" y="1041.0" font-size="19" text-anchor="middle" font-weight="normal" >+</text>
<text x="251.9" y="1042.6" font-size="19" text-anchor="middle" font-weight="normal" >-</text>
<text x="282.5" y="1041.0" font-size="19" text-anchor="middle" font-weight="normal" >+</text>
<text x="338.6" y="1042.6" font-size="19" text-anchor="middle" font-weight="normal" >-</text>
<text x="368.7" y="1041.0" font-size="19" text-anchor="middle" font-weight="normal" >+</text>
<text x="431.5" y="1042.6" font-size="19" text-anchor="middle" font-weight="normal" >-</text>
<text x="462.2" y="1041.0" font-size="19" text-anchor="middle" font-weight="normal" >+</text>
<text x="523.3" y="1042.6" font-size="19" text-anchor="middle" font-weight="normal" >-</text>
<text x="553.6" y="1041.0" font-size="19" text-anchor="middle" font-weight="normal" >+</text>
<text x="611.0" y="1042.6" font-size="19" text-anchor="middle" font-weight="normal" >-</text>
<text x="641.8" y="1041.0" font-size="19" text-anchor="middle" font-weight="normal" >+</text>
<text transform="translate(73.0 858.3) rotate(-90)" font-size="19.2" text-anchor="middle" textLength="279.4" lengthAdjust="spacing">pSer935/total LRRK2 relative to WT</text>
<text x="358.5" y="683.7" font-size="26" text-anchor="middle" font-weight="bold" style="stroke-width:0.5px">pSer935-LRRK2</text>
<line x1="792.8" y1="827.0" x2="1324.2" y2="827.0" stroke="#111" stroke-width="2.1" stroke-linecap="round" stroke-dasharray="0.2 3.8"/>
<rect x="893.8" y="864.2" width="21.2" height="144.6" fill="#d9d9d9" stroke="#0a0a0a" stroke-width="1.9"/>
<rect x="927.8" y="851.5" width="21.2" height="157.3" fill="#d9d9d9" stroke="#0a0a0a" stroke-width="1.9"/>
<rect x="984.4" y="827.5" width="20.7" height="181.3" fill="#d9d9d9" stroke="#0a0a0a" stroke-width="1.9"/>
<rect x="1018.5" y="844.6" width="20.9" height="164.2" fill="#d9d9d9" stroke="#0a0a0a" stroke-width="1.9"/>
<rect x="1075.2" y="848.0" width="21.0" height="160.8" fill="#efd67c" stroke="#0a0a0a" stroke-width="1.9"/>
<rect x="1109.5" y="837.0" width="20.7" height="171.8" fill="#efd67c" stroke="#0a0a0a" stroke-width="1.9"/>
<rect x="1166.0" y="856.2" width="20.7" height="152.6" fill="#d9d9d9" stroke="#0a0a0a" stroke-width="1.9"/>
<rect x="1200.0" y="854.4" width="21.0" height="154.4" fill="#d9d9d9" stroke="#0a0a0a" stroke-width="1.9"/>
<rect x="1256.7" y="835.5" width="20.7" height="173.3" fill="#d9d9d9" stroke="#0a0a0a" stroke-width="1.9"/>
<rect x="1290.7" y="866.0" width="20.7" height="142.8" fill="#d9d9d9" stroke="#0a0a0a" stroke-width="1.9"/>
<line x1="791.8" y1="735.1" x2="791.8" y2="1009.8" stroke="#0a0a0a" stroke-width="2"/>
<line x1="776.6" y1="1008.8" x2="1324.2" y2="1008.8" stroke="#0a0a0a" stroke-width="2"/>
<line x1="776.6" y1="917.9" x2="791.8" y2="917.9" stroke="#0a0a0a" stroke-width="2"/>
<line x1="776.6" y1="827.0" x2="791.8" y2="827.0" stroke="#0a0a0a" stroke-width="2"/>
<line x1="776.6" y1="736.1" x2="791.8" y2="736.1" stroke="#0a0a0a" stroke-width="2"/>
<line x1="783.8" y1="963.3" x2="791.8" y2="963.3" stroke="#0a0a0a" stroke-width="2"/>
<line x1="783.8" y1="872.4" x2="791.8" y2="872.4" stroke="#0a0a0a" stroke-width="2"/>
<line x1="783.8" y1="781.5" x2="791.8" y2="781.5" stroke="#0a0a0a" stroke-width="2"/>
<line x1="829.9" y1="1008.8" x2="829.9" y2="1023.8" stroke="#0a0a0a" stroke-width="2"/>
<line x1="920.9" y1="1008.8" x2="920.9" y2="1023.8" stroke="#0a0a0a" stroke-width="2"/>
<line x1="1011.5" y1="1008.8" x2="1011.5" y2="1023.8" stroke="#0a0a0a" stroke-width="2"/>
<line x1="1101.9" y1="1008.8" x2="1101.9" y2="1023.8" stroke="#0a0a0a" stroke-width="2"/>
<line x1="1192.6" y1="1008.8" x2="1192.6" y2="1023.8" stroke="#0a0a0a" stroke-width="2"/>
<line x1="1283.3" y1="1008.8" x2="1283.3" y2="1023.8" stroke="#0a0a0a" stroke-width="2"/>
<line x1="994.7" y1="798.5" x2="994.7" y2="855.2" stroke="#0a0a0a" stroke-width="2.6"/>
<line x1="988.0" y1="798.5" x2="1001.4" y2="798.5" stroke="#0a0a0a" stroke-width="2"/>
<line x1="988.0" y1="855.2" x2="1001.4" y2="855.2" stroke="#0a0a0a" stroke-width="2"/>
<line x1="1085.7" y1="842.5" x2="1085.7" y2="853.8" stroke="#0a0a0a" stroke-width="2.6"/>
<line x1="1079.3" y1="842.5" x2="1092.1" y2="842.5" stroke="#0a0a0a" stroke-width="2"/>
<line x1="1079.3" y1="853.8" x2="1092.1" y2="853.8" stroke="#0a0a0a" stroke-width="2"/>
<line x1="1176.3" y1="846.4" x2="1176.3" y2="864.3" stroke="#0a0a0a" stroke-width="2.6"/>
<line x1="1169.9" y1="846.4" x2="1182.7" y2="846.4" stroke="#0a0a0a" stroke-width="2"/>
<line x1="1169.9" y1="864.3" x2="1182.7" y2="864.3" stroke="#0a0a0a" stroke-width="2"/>
<line x1="1267.0" y1="813.2" x2="1267.0" y2="855.5" stroke="#0a0a0a" stroke-width="2.6"/>
<line x1="1260.3" y1="813.2" x2="1273.7" y2="813.2" stroke="#0a0a0a" stroke-width="2"/>
<line x1="1260.3" y1="855.5" x2="1273.7" y2="855.5" stroke="#0a0a0a" stroke-width="2"/>
<circle cx="808.4" cy="1008.8" r="6.1" fill="#4963b6" stroke="#0a0a0a" stroke-width="1.15"/>
<circle cx="819.4" cy="1008.8" r="6.1" fill="#4963b6" stroke="#0a0a0a" stroke-width="1.15"/>
<circle cx="813.9" cy="1008.8" r="6.1" fill="#4963b6" stroke="#0a0a0a" stroke-width="1.15"/>
<circle cx="847.6" cy="1008.8" r="6.1" fill="#3f3f3f" stroke="#0a0a0a" stroke-width="1.15"/>
<circle cx="898.2" cy="863.8" r="6.1" fill="#4963b6" stroke="#0a0a0a" stroke-width="1.15"/>
<circle cx="910.1" cy="862.1" r="6.1" fill="#4963b6" stroke="#0a0a0a" stroke-width="1.15"/>
<circle cx="904.3" cy="854.6" r="6.1" fill="#4963b6" stroke="#0a0a0a" stroke-width="1.15"/>
<circle cx="938.3" cy="850.2" r="6.1" fill="#3f3f3f" stroke="#0a0a0a" stroke-width="1.15"/>
<circle cx="989.5" cy="808.8" r="6.1" fill="#4963b6" stroke="#0a0a0a" stroke-width="1.15"/>
<circle cx="1000.5" cy="811.8" r="6.1" fill="#4963b6" stroke="#0a0a0a" stroke-width="1.15"/>
<circle cx="995.0" cy="860.2" r="6.1" fill="#4963b6" stroke="#0a0a0a" stroke-width="1.15"/>
<circle cx="1028.7" cy="843.9" r="6.1" fill="#3f3f3f" stroke="#0a0a0a" stroke-width="1.15"/>
<circle cx="1080.1" cy="840.8" r="6.1" fill="#4963b6" stroke="#0a0a0a" stroke-width="1.15"/>
<circle cx="1091.1" cy="845.5" r="6.1" fill="#4963b6" stroke="#0a0a0a" stroke-width="1.15"/>
<circle cx="1080.1" cy="854.6" r="6.1" fill="#4963b6" stroke="#0a0a0a" stroke-width="1.15"/>
<circle cx="1119.6" cy="835.8" r="6.1" fill="#3f3f3f" stroke="#0a0a0a" stroke-width="1.15"/>
<circle cx="1170.5" cy="846.9" r="6.1" fill="#4963b6" stroke="#0a0a0a" stroke-width="1.15"/>
<circle cx="1181.6" cy="855.5" r="6.1" fill="#4963b6" stroke="#0a0a0a" stroke-width="1.15"/>
<circle cx="1170.5" cy="864.6" r="6.1" fill="#4963b6" stroke="#0a0a0a" stroke-width="1.15"/>
<circle cx="1210.0" cy="853.3" r="6.1" fill="#3f3f3f" stroke="#0a0a0a" stroke-width="1.15"/>
<circle cx="1263.1" cy="809.6" r="6.1" fill="#4963b6" stroke="#0a0a0a" stroke-width="1.15"/>
<circle cx="1257.3" cy="847.7" r="6.1" fill="#4963b6" stroke="#0a0a0a" stroke-width="1.15"/>
<circle cx="1268.4" cy="845.8" r="6.1" fill="#4963b6" stroke="#0a0a0a" stroke-width="1.15"/>
<circle cx="1296.6" cy="864.3" r="6.1" fill="#3f3f3f" stroke="#0a0a0a" stroke-width="1.15"/>
<text x="769.6" y="1015.6" font-size="19" text-anchor="end" font-weight="normal" >0.0</text>
<text x="769.6" y="924.7" font-size="19" text-anchor="end" font-weight="normal" >0.5</text>
<text x="769.6" y="833.8" font-size="19" text-anchor="end" font-weight="normal" >1.0</text>
<text x="769.6" y="742.9" font-size="19" text-anchor="end" font-weight="normal" >1.5</text>
<text x="829.9" y="1073.7" font-size="19" text-anchor="middle" font-weight="normal" >FLAG</text>
<text x="920.9" y="1073.7" font-size="19" text-anchor="middle" font-weight="normal" >D2017A</text>
<text x="1011.5" y="1073.7" font-size="19" text-anchor="middle" font-weight="normal" >WT</text>
<text x="1101.9" y="1073.7" font-size="19" text-anchor="middle" font-weight="normal" >R1067Q</text>
<text x="1192.6" y="1073.7" font-size="19" text-anchor="middle" font-weight="normal" >R1441G</text>
<text x="1283.3" y="1073.7" font-size="19" text-anchor="middle" font-weight="normal" >G2019S</text>
<text x="812.0" y="1051.2" font-size="19" text-anchor="middle" font-weight="normal" >-</text>
<text x="842.1" y="1049.6" font-size="19" text-anchor="middle" font-weight="normal" >+</text>
<text x="906.0" y="1051.2" font-size="19" text-anchor="middle" font-weight="normal" >-</text>
<text x="936.9" y="1049.6" font-size="19" text-anchor="middle" font-weight="normal" >+</text>
<text x="992.2" y="1051.2" font-size="19" text-anchor="middle" font-weight="normal" >-</text>
<text x="1022.6" y="1049.6" font-size="19" text-anchor="middle" font-weight="normal" >+</text>
<text x="1085.6" y="1051.2" font-size="19" text-anchor="middle" font-weight="normal" >-</text>
<text x="1116.0" y="1049.6" font-size="19" text-anchor="middle" font-weight="normal" >+</text>
<text x="1177.4" y="1051.2" font-size="19" text-anchor="middle" font-weight="normal" >-</text>
<text x="1207.8" y="1049.6" font-size="19" text-anchor="middle" font-weight="normal" >+</text>
<text x="1265.3" y="1051.2" font-size="19" text-anchor="middle" font-weight="normal" >-</text>
<text x="1295.7" y="1049.6" font-size="19" text-anchor="middle" font-weight="normal" >+</text>
<text transform="translate(727.0 855.8) rotate(-90)" font-size="19.2" text-anchor="middle" textLength="342.4" lengthAdjust="spacing">total LRRK2/GAPDH relative to LRRK2 WT</text>
<text x="1053.5" y="688.0" font-size="26" text-anchor="middle" font-weight="bold" style="stroke-width:0.5px">total LRRK2</text>
<line x1="1463.3" y1="824.3" x2="1994.6" y2="824.3" stroke="#111" stroke-width="2.1" stroke-linecap="round" stroke-dasharray="0.2 3.8"/>
<rect x="1473.9" y="843.9" width="20.9" height="162.7" fill="#d9d9d9" stroke="#0a0a0a" stroke-width="1.9"/>
<rect x="1508.2" y="830.9" width="20.9" height="175.7" fill="#d9d9d9" stroke="#0a0a0a" stroke-width="1.9"/>
<rect x="1564.5" y="832.2" width="20.9" height="174.3" fill="#d9d9d9" stroke="#0a0a0a" stroke-width="1.9"/>
<rect x="1598.9" y="812.5" width="20.9" height="194.0" fill="#d9d9d9" stroke="#0a0a0a" stroke-width="1.9"/>
<rect x="1655.2" y="825.2" width="20.6" height="181.3" fill="#d9d9d9" stroke="#0a0a0a" stroke-width="1.9"/>
<rect x="1689.5" y="864.0" width="21.0" height="142.5" fill="#d9d9d9" stroke="#0a0a0a" stroke-width="1.9"/>
<rect x="1746.4" y="807.1" width="20.4" height="199.4" fill="#efd67c" stroke="#0a0a0a" stroke-width="1.9"/>
<rect x="1780.2" y="793.2" width="20.7" height="213.3" fill="#efd67c" stroke="#0a0a0a" stroke-width="1.9"/>
<rect x="1836.8" y="815.9" width="20.7" height="190.7" fill="#d9d9d9" stroke="#0a0a0a" stroke-width="1.9"/>
<rect x="1870.7" y="842.0" width="21.0" height="164.6" fill="#d9d9d9" stroke="#0a0a0a" stroke-width="1.9"/>
<rect x="1927.5" y="873.0" width="20.8" height="133.6" fill="#d9d9d9" stroke="#0a0a0a" stroke-width="1.9"/>
<rect x="1961.4" y="868.5" width="20.8" height="138.1" fill="#d9d9d9" stroke="#0a0a0a" stroke-width="1.9"/>
<line x1="1462.3" y1="732.2" x2="1462.3" y2="1007.5" stroke="#0a0a0a" stroke-width="2"/>
<line x1="1447.1" y1="1006.5" x2="1994.6" y2="1006.5" stroke="#0a0a0a" stroke-width="2"/>
<line x1="1447.1" y1="915.4" x2="1462.3" y2="915.4" stroke="#0a0a0a" stroke-width="2"/>
<line x1="1447.1" y1="824.3" x2="1462.3" y2="824.3" stroke="#0a0a0a" stroke-width="2"/>
<line x1="1447.1" y1="733.2" x2="1462.3" y2="733.2" stroke="#0a0a0a" stroke-width="2"/>
<line x1="1454.3" y1="961.0" x2="1462.3" y2="961.0" stroke="#0a0a0a" stroke-width="2"/>
<line x1="1454.3" y1="869.9" x2="1462.3" y2="869.9" stroke="#0a0a0a" stroke-width="2"/>
<line x1="1454.3" y1="778.8" x2="1462.3" y2="778.8" stroke="#0a0a0a" stroke-width="2"/>
<line x1="1501.0" y1="1006.5" x2="1501.0" y2="1021.4" stroke="#0a0a0a" stroke-width="2"/>
<line x1="1591.6" y1="1006.5" x2="1591.6" y2="1021.4" stroke="#0a0a0a" stroke-width="2"/>
<line x1="1682.0" y1="1006.5" x2="1682.0" y2="1021.4" stroke="#0a0a0a" stroke-width="2"/>
<line x1="1772.6" y1="1006.5" x2="1772.6" y2="1021.4" stroke="#0a0a0a" stroke-width="2"/>
<line x1="1863.3" y1="1006.5" x2="1863.3" y2="1021.4" stroke="#0a0a0a" stroke-width="2"/>
<line x1="1954.1" y1="1006.5" x2="1954.1" y2="1021.4" stroke="#0a0a0a" stroke-width="2"/>
<line x1="1484.3" y1="836.0" x2="1484.3" y2="851.0" stroke="#0a0a0a" stroke-width="2.6"/>
<line x1="1477.9" y1="836.0" x2="1490.7" y2="836.0" stroke="#0a0a0a" stroke-width="2"/>
<line x1="1477.9" y1="851.0" x2="1490.7" y2="851.0" stroke="#0a0a0a" stroke-width="2"/>
<line x1="1575.0" y1="816.0" x2="1575.0" y2="846.4" stroke="#0a0a0a" stroke-width="2.6"/>
<line x1="1665.4" y1="781.4" x2="1665.4" y2="867.6" stroke="#0a0a0a" stroke-width="2.6"/>
<line x1="1658.5" y1="781.4" x2="1672.3" y2="781.4" stroke="#0a0a0a" stroke-width="2"/>
<line x1="1658.5" y1="867.6" x2="1672.3" y2="867.6" stroke="#0a0a0a" stroke-width="2"/>
<line x1="1756.5" y1="768.1" x2="1756.5" y2="844.0" stroke="#0a0a0a" stroke-width="2.6"/>
<line x1="1749.9" y1="768.1" x2="1763.1" y2="768.1" stroke="#0a0a0a" stroke-width="2"/>
<line x1="1749.9" y1="844.0" x2="1763.1" y2="844.0" stroke="#0a0a0a" stroke-width="2"/>
<line x1="1847.1" y1="804.3" x2="1847.1" y2="826.0" stroke="#0a0a0a" stroke-width="2.6"/>
<line x1="1840.7" y1="804.3" x2="1853.5" y2="804.3" stroke="#0a0a0a" stroke-width="2"/>
<line x1="1937.4" y1="850.0" x2="1937.4" y2="894.0" stroke="#0a0a0a" stroke-width="2.6"/>
<circle cx="1478.7" cy="834.2" r="6.1" fill="#4963b6" stroke="#0a0a0a" stroke-width="1.15"/>
<circle cx="1489.7" cy="841.9" r="6.1" fill="#4963b6" stroke="#0a0a0a" stroke-width="1.15"/>
<circle cx="1478.7" cy="852.4" r="6.1" fill="#4963b6" stroke="#0a0a0a" stroke-width="1.15"/>
<circle cx="1518.5" cy="830.0" r="6.1" fill="#3f3f3f" stroke="#0a0a0a" stroke-width="1.15"/>
<circle cx="1574.9" cy="813.7" r="6.1" fill="#4963b6" stroke="#0a0a0a" stroke-width="1.15"/>
<circle cx="1569.1" cy="841.7" r="6.1" fill="#4963b6" stroke="#0a0a0a" stroke-width="1.15"/>
<circle cx="1580.7" cy="838.6" r="6.1" fill="#4963b6" stroke="#0a0a0a" stroke-width="1.15"/>
<circle cx="1609.2" cy="811.2" r="6.1" fill="#3f3f3f" stroke="#0a0a0a" stroke-width="1.15"/>
<circle cx="1665.3" cy="791.0" r="6.1" fill="#4963b6" stroke="#0a0a0a" stroke-width="1.15"/>
<circle cx="1665.3" cy="809.6" r="6.1" fill="#4963b6" stroke="#0a0a0a" stroke-width="1.15"/>
<circle cx="1665.3" cy="873.2" r="6.1" fill="#4963b6" stroke="#0a0a0a" stroke-width="1.15"/>
<circle cx="1699.3" cy="863.0" r="6.1" fill="#3f3f3f" stroke="#0a0a0a" stroke-width="1.15"/>
<circle cx="1756.5" cy="777.8" r="6.1" fill="#4963b6" stroke="#0a0a0a" stroke-width="1.15"/>
<circle cx="1756.5" cy="792.0" r="6.1" fill="#4963b6" stroke="#0a0a0a" stroke-width="1.15"/>
<circle cx="1756.5" cy="849.8" r="6.1" fill="#4963b6" stroke="#0a0a0a" stroke-width="1.15"/>
<circle cx="1790.4" cy="791.4" r="6.1" fill="#3f3f3f" stroke="#0a0a0a" stroke-width="1.15"/>
<circle cx="1841.1" cy="804.3" r="6.1" fill="#4963b6" stroke="#0a0a0a" stroke-width="1.15"/>
<circle cx="1852.4" cy="814.9" r="6.1" fill="#4963b6" stroke="#0a0a0a" stroke-width="1.15"/>
<circle cx="1846.9" cy="825.9" r="6.1" fill="#4963b6" stroke="#0a0a0a" stroke-width="1.15"/>
<circle cx="1880.8" cy="840.8" r="6.1" fill="#3f3f3f" stroke="#0a0a0a" stroke-width="1.15"/>
<circle cx="1937.4" cy="849.5" r="6.1" fill="#4963b6" stroke="#0a0a0a" stroke-width="1.15"/>
<circle cx="1937.4" cy="873.7" r="6.1" fill="#4963b6" stroke="#0a0a0a" stroke-width="1.15"/>
<circle cx="1937.4" cy="894.0" r="6.1" fill="#4963b6" stroke="#0a0a0a" stroke-width="1.15"/>
<circle cx="1971.3" cy="867.2" r="6.1" fill="#3f3f3f" stroke="#0a0a0a" stroke-width="1.15"/>
<text x="1440.2" y="1013.3" font-size="19" text-anchor="end" font-weight="normal" >0.0</text>
<text x="1440.2" y="922.2" font-size="19" text-anchor="end" font-weight="normal" >0.5</text>
<text x="1440.2" y="831.1" font-size="19" text-anchor="end" font-weight="normal" >1.0</text>
<text x="1440.2" y="740.0" font-size="19" text-anchor="end" font-weight="normal" >1.5</text>
<text x="1501.0" y="1071.0" font-size="19" text-anchor="middle" font-weight="normal" >FLAG</text>
<text x="1591.6" y="1071.0" font-size="19" text-anchor="middle" font-weight="normal" >D2017A</text>
<text x="1682.0" y="1071.0" font-size="19" text-anchor="middle" font-weight="normal" >WT</text>
<text x="1772.6" y="1071.0" font-size="19" text-anchor="middle" font-weight="normal" >R1067Q</text>
<text x="1863.3" y="1071.0" font-size="19" text-anchor="middle" font-weight="normal" >R1441G</text>
<text x="1954.1" y="1071.0" font-size="19" text-anchor="middle" font-weight="normal" >G2019S</text>
<text x="1488.3" y="1045.2" font-size="19" text-anchor="middle" font-weight="normal" >-</text>
<text x="1519.0" y="1043.6" font-size="19" text-anchor="middle" font-weight="normal" >+</text>
<text x="1581.5" y="1045.2" font-size="19" text-anchor="middle" font-weight="normal" >-</text>
<text x="1611.9" y="1043.6" font-size="19" text-anchor="middle" font-weight="normal" >+</text>
<text x="1667.8" y="1045.2" font-size="19" text-anchor="middle" font-weight="normal" >-</text>
<text x="1698.5" y="1043.6" font-size="19" text-anchor="middle" font-weight="normal" >+</text>
<text x="1761.4" y="1045.2" font-size="19" text-anchor="middle" font-weight="normal" >-</text>
<text x="1791.7" y="1043.6" font-size="19" text-anchor="middle" font-weight="normal" >+</text>
<text x="1853.4" y="1045.2" font-size="19" text-anchor="middle" font-weight="normal" >-</text>
<text x="1883.4" y="1043.6" font-size="19" text-anchor="middle" font-weight="normal" >+</text>
<text x="1940.6" y="1045.2" font-size="19" text-anchor="middle" font-weight="normal" >-</text>
<text x="1971.3" y="1043.6" font-size="19" text-anchor="middle" font-weight="normal" >+</text>
<text transform="translate(1398.6 864.9) rotate(-90)" font-size="19.2" text-anchor="middle" textLength="270.6" lengthAdjust="spacing">total Rab10/GAPDH relative to WT</text>
<text x="1728.4" y="690.0" font-size="26" text-anchor="middle" font-weight="bold" style="stroke-width:0.5px">total Rab10</text>
</svg></body></html>
